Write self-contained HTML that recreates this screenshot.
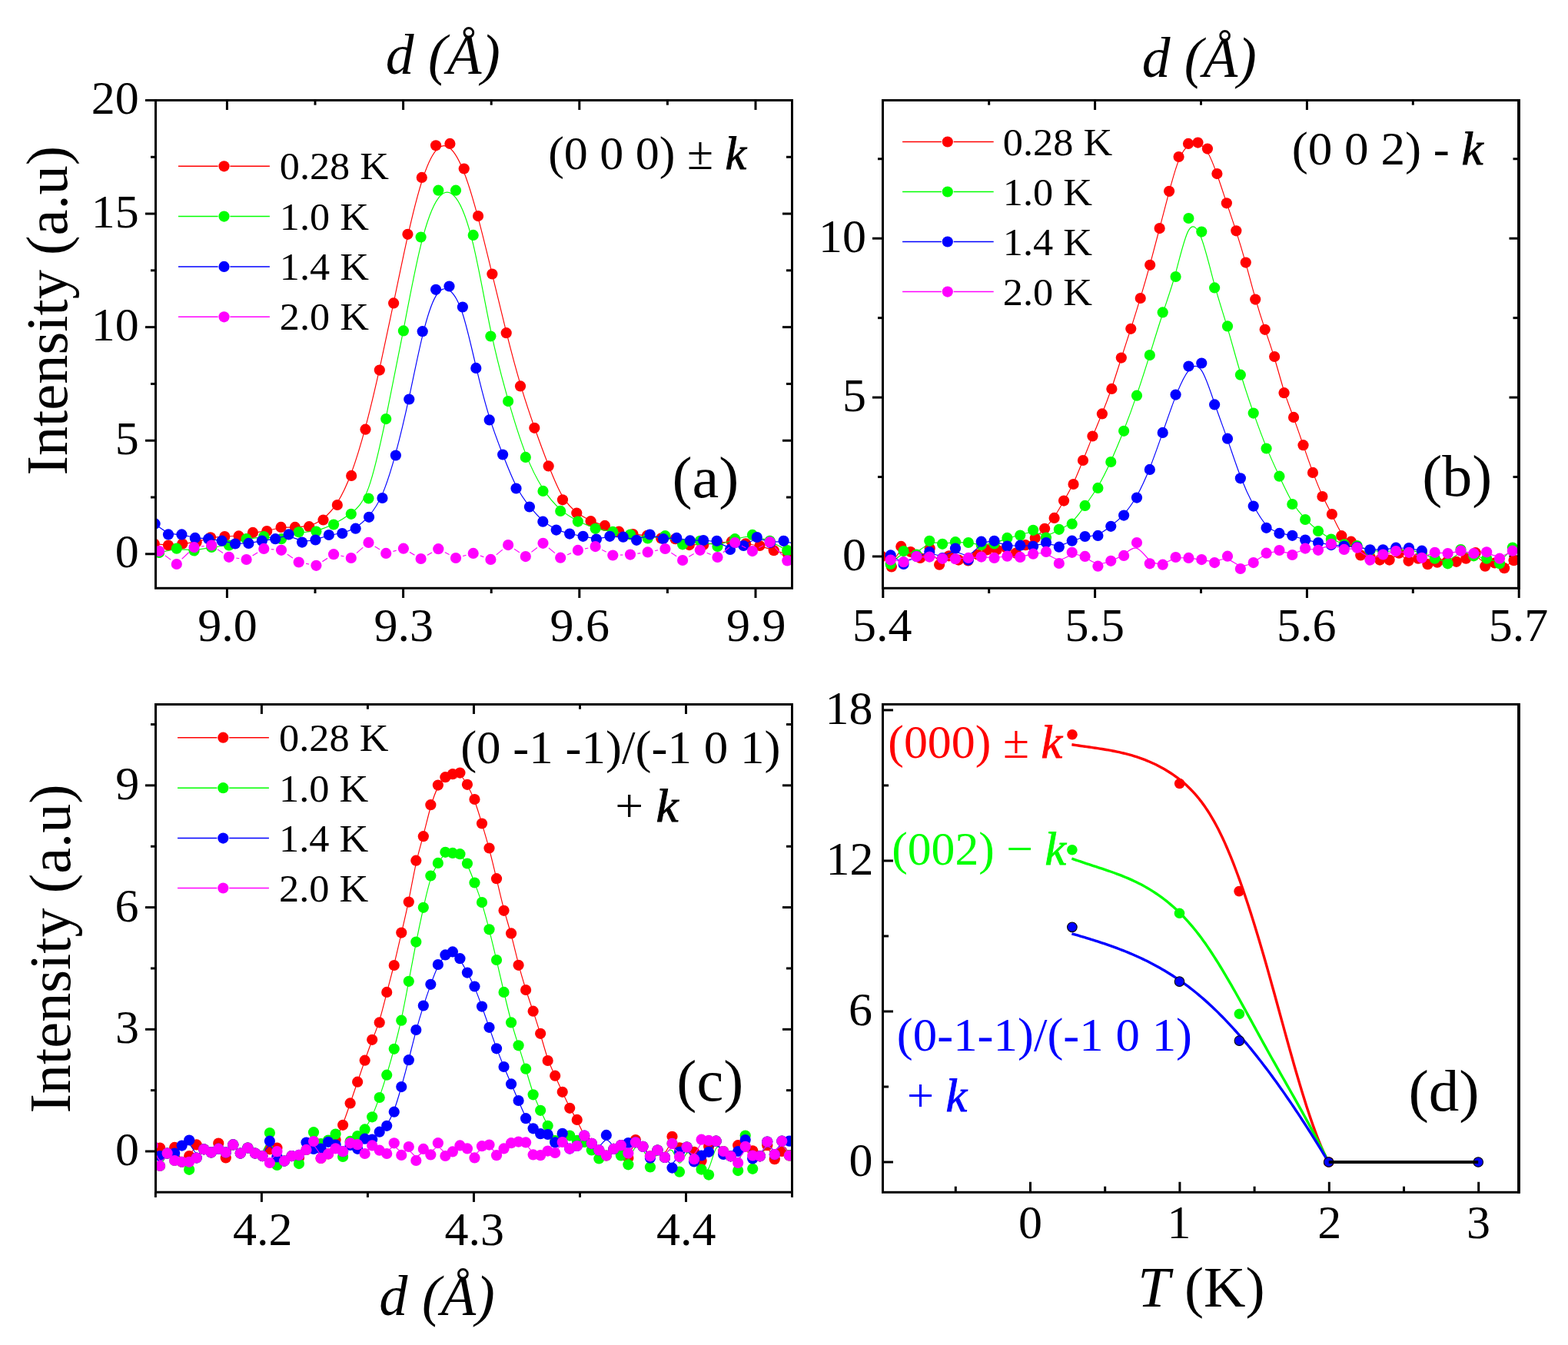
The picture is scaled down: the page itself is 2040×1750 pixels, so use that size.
<!DOCTYPE html>
<html><head><meta charset="utf-8"><title>Figure</title>
<style>html,body{margin:0;padding:0;background:#fff;width:2040px;height:1750px;overflow:hidden}svg{display:block}text{font-kerning:none}</style>
</head><body>
<svg width="2040" height="1750" viewBox="0 0 2040 1750">
<rect width="100%" height="100%" fill="#fff"/>
<defs>
<clipPath id="cA"><rect x="202.5" y="130.5" width="828" height="634.8"/></clipPath>
<clipPath id="cB"><rect x="1148.5" y="130.5" width="827.5" height="634.8"/></clipPath>
<clipPath id="cC"><rect x="202.5" y="916.5" width="828" height="634.7"/></clipPath>
<clipPath id="cD"><rect x="1148.5" y="916.4" width="827.5" height="634.9"/></clipPath>
</defs>
<g font-family="Liberation Serif, Times New Roman, serif" style="font-kerning:none">
<line x1="295.4" y1="765.3" x2="295.4" y2="778" stroke="#000" stroke-width="3.0"/>
<line x1="524.6" y1="765.3" x2="524.6" y2="778" stroke="#000" stroke-width="3.0"/>
<line x1="753.8" y1="765.3" x2="753.8" y2="778" stroke="#000" stroke-width="3.0"/>
<line x1="983" y1="765.3" x2="983" y2="778" stroke="#000" stroke-width="3.0"/>
<line x1="410" y1="765.3" x2="410" y2="772" stroke="#000" stroke-width="3.0"/>
<line x1="639.2" y1="765.3" x2="639.2" y2="772" stroke="#000" stroke-width="3.0"/>
<line x1="868.4" y1="765.3" x2="868.4" y2="772" stroke="#000" stroke-width="3.0"/>
<line x1="295.4" y1="130.5" x2="295.4" y2="143" stroke="#000" stroke-width="3.0"/>
<line x1="524.6" y1="130.5" x2="524.6" y2="143" stroke="#000" stroke-width="3.0"/>
<line x1="753.8" y1="130.5" x2="753.8" y2="143" stroke="#000" stroke-width="3.0"/>
<line x1="983" y1="130.5" x2="983" y2="143" stroke="#000" stroke-width="3.0"/>
<line x1="410" y1="130.5" x2="410" y2="136.7" stroke="#000" stroke-width="3.0"/>
<line x1="639.2" y1="130.5" x2="639.2" y2="136.7" stroke="#000" stroke-width="3.0"/>
<line x1="868.4" y1="130.5" x2="868.4" y2="136.7" stroke="#000" stroke-width="3.0"/>
<line x1="202.5" y1="720.8" x2="189" y2="720.8" stroke="#000" stroke-width="3.0"/>
<line x1="202.5" y1="573.22" x2="189" y2="573.22" stroke="#000" stroke-width="3.0"/>
<line x1="202.5" y1="425.65" x2="189" y2="425.65" stroke="#000" stroke-width="3.0"/>
<line x1="202.5" y1="278.07" x2="189" y2="278.07" stroke="#000" stroke-width="3.0"/>
<line x1="202.5" y1="130.5" x2="189" y2="130.5" stroke="#000" stroke-width="3.0"/>
<line x1="202.5" y1="647.01" x2="196" y2="647.01" stroke="#000" stroke-width="3.0"/>
<line x1="202.5" y1="499.44" x2="196" y2="499.44" stroke="#000" stroke-width="3.0"/>
<line x1="202.5" y1="351.86" x2="196" y2="351.86" stroke="#000" stroke-width="3.0"/>
<line x1="202.5" y1="204.29" x2="196" y2="204.29" stroke="#000" stroke-width="3.0"/>
<line x1="1030.5" y1="720.8" x2="1018" y2="720.8" stroke="#000" stroke-width="3.0"/>
<line x1="1030.5" y1="573.22" x2="1018" y2="573.22" stroke="#000" stroke-width="3.0"/>
<line x1="1030.5" y1="425.65" x2="1018" y2="425.65" stroke="#000" stroke-width="3.0"/>
<line x1="1030.5" y1="278.07" x2="1018" y2="278.07" stroke="#000" stroke-width="3.0"/>
<line x1="1030.5" y1="130.5" x2="1018" y2="130.5" stroke="#000" stroke-width="3.0"/>
<line x1="1030.5" y1="647.01" x2="1023" y2="647.01" stroke="#000" stroke-width="3.0"/>
<line x1="1030.5" y1="499.44" x2="1023" y2="499.44" stroke="#000" stroke-width="3.0"/>
<line x1="1030.5" y1="351.86" x2="1023" y2="351.86" stroke="#000" stroke-width="3.0"/>
<line x1="1030.5" y1="204.29" x2="1023" y2="204.29" stroke="#000" stroke-width="3.0"/>
<line x1="1148.8" y1="765.3" x2="1148.8" y2="778" stroke="#000" stroke-width="3.0"/>
<line x1="1424.6" y1="765.3" x2="1424.6" y2="778" stroke="#000" stroke-width="3.0"/>
<line x1="1700.4" y1="765.3" x2="1700.4" y2="778" stroke="#000" stroke-width="3.0"/>
<line x1="1976.2" y1="765.3" x2="1976.2" y2="778" stroke="#000" stroke-width="3.0"/>
<line x1="1286.7" y1="765.3" x2="1286.7" y2="772" stroke="#000" stroke-width="3.0"/>
<line x1="1562.5" y1="765.3" x2="1562.5" y2="772" stroke="#000" stroke-width="3.0"/>
<line x1="1838.3" y1="765.3" x2="1838.3" y2="772" stroke="#000" stroke-width="3.0"/>
<line x1="1424.6" y1="130.5" x2="1424.6" y2="143" stroke="#000" stroke-width="3.0"/>
<line x1="1700.4" y1="130.5" x2="1700.4" y2="143" stroke="#000" stroke-width="3.0"/>
<line x1="1286.7" y1="130.5" x2="1286.7" y2="136.7" stroke="#000" stroke-width="3.0"/>
<line x1="1562.5" y1="130.5" x2="1562.5" y2="136.7" stroke="#000" stroke-width="3.0"/>
<line x1="1838.3" y1="130.5" x2="1838.3" y2="136.7" stroke="#000" stroke-width="3.0"/>
<line x1="1148.5" y1="724" x2="1135" y2="724" stroke="#000" stroke-width="3.0"/>
<line x1="1148.5" y1="517.1" x2="1135" y2="517.1" stroke="#000" stroke-width="3.0"/>
<line x1="1148.5" y1="310.2" x2="1135" y2="310.2" stroke="#000" stroke-width="3.0"/>
<line x1="1148.5" y1="620.55" x2="1142" y2="620.55" stroke="#000" stroke-width="3.0"/>
<line x1="1148.5" y1="413.65" x2="1142" y2="413.65" stroke="#000" stroke-width="3.0"/>
<line x1="1148.5" y1="206.75" x2="1142" y2="206.75" stroke="#000" stroke-width="3.0"/>
<line x1="1976" y1="724" x2="1963.5" y2="724" stroke="#000" stroke-width="3.0"/>
<line x1="1976" y1="517.1" x2="1963.5" y2="517.1" stroke="#000" stroke-width="3.0"/>
<line x1="1976" y1="310.2" x2="1963.5" y2="310.2" stroke="#000" stroke-width="3.0"/>
<line x1="1976" y1="620.55" x2="1968.5" y2="620.55" stroke="#000" stroke-width="3.0"/>
<line x1="1976" y1="413.65" x2="1968.5" y2="413.65" stroke="#000" stroke-width="3.0"/>
<line x1="1976" y1="206.75" x2="1968.5" y2="206.75" stroke="#000" stroke-width="3.0"/>
<line x1="340.4" y1="1551.2" x2="340.4" y2="1563.9" stroke="#000" stroke-width="3.0"/>
<line x1="616.45" y1="1551.2" x2="616.45" y2="1563.9" stroke="#000" stroke-width="3.0"/>
<line x1="892.5" y1="1551.2" x2="892.5" y2="1563.9" stroke="#000" stroke-width="3.0"/>
<line x1="202.38" y1="1551.2" x2="202.38" y2="1557.9" stroke="#000" stroke-width="3.0"/>
<line x1="478.42" y1="1551.2" x2="478.42" y2="1557.9" stroke="#000" stroke-width="3.0"/>
<line x1="754.47" y1="1551.2" x2="754.47" y2="1557.9" stroke="#000" stroke-width="3.0"/>
<line x1="1030.53" y1="1551.2" x2="1030.53" y2="1557.9" stroke="#000" stroke-width="3.0"/>
<line x1="340.4" y1="916.5" x2="340.4" y2="929" stroke="#000" stroke-width="3.0"/>
<line x1="616.45" y1="916.5" x2="616.45" y2="929" stroke="#000" stroke-width="3.0"/>
<line x1="892.5" y1="916.5" x2="892.5" y2="929" stroke="#000" stroke-width="3.0"/>
<line x1="478.42" y1="916.5" x2="478.42" y2="922.7" stroke="#000" stroke-width="3.0"/>
<line x1="754.47" y1="916.5" x2="754.47" y2="922.7" stroke="#000" stroke-width="3.0"/>
<line x1="202.5" y1="1498" x2="189" y2="1498" stroke="#000" stroke-width="3.0"/>
<line x1="202.5" y1="1339.3" x2="189" y2="1339.3" stroke="#000" stroke-width="3.0"/>
<line x1="202.5" y1="1180.6" x2="189" y2="1180.6" stroke="#000" stroke-width="3.0"/>
<line x1="202.5" y1="1021.9" x2="189" y2="1021.9" stroke="#000" stroke-width="3.0"/>
<line x1="202.5" y1="1418.65" x2="196" y2="1418.65" stroke="#000" stroke-width="3.0"/>
<line x1="202.5" y1="1259.95" x2="196" y2="1259.95" stroke="#000" stroke-width="3.0"/>
<line x1="202.5" y1="1101.25" x2="196" y2="1101.25" stroke="#000" stroke-width="3.0"/>
<line x1="202.5" y1="942.55" x2="196" y2="942.55" stroke="#000" stroke-width="3.0"/>
<line x1="1030.5" y1="1498" x2="1018" y2="1498" stroke="#000" stroke-width="3.0"/>
<line x1="1030.5" y1="1339.3" x2="1018" y2="1339.3" stroke="#000" stroke-width="3.0"/>
<line x1="1030.5" y1="1180.6" x2="1018" y2="1180.6" stroke="#000" stroke-width="3.0"/>
<line x1="1030.5" y1="1021.9" x2="1018" y2="1021.9" stroke="#000" stroke-width="3.0"/>
<line x1="1030.5" y1="1418.65" x2="1023" y2="1418.65" stroke="#000" stroke-width="3.0"/>
<line x1="1030.5" y1="1259.95" x2="1023" y2="1259.95" stroke="#000" stroke-width="3.0"/>
<line x1="1030.5" y1="1101.25" x2="1023" y2="1101.25" stroke="#000" stroke-width="3.0"/>
<line x1="1030.5" y1="942.55" x2="1023" y2="942.55" stroke="#000" stroke-width="3.0"/>
<line x1="1340.5" y1="1551.3" x2="1340.5" y2="1537.8" stroke="#000" stroke-width="3.0"/>
<line x1="1534.9" y1="1551.3" x2="1534.9" y2="1537.8" stroke="#000" stroke-width="3.0"/>
<line x1="1729.3" y1="1551.3" x2="1729.3" y2="1537.8" stroke="#000" stroke-width="3.0"/>
<line x1="1923.7" y1="1551.3" x2="1923.7" y2="1537.8" stroke="#000" stroke-width="3.0"/>
<line x1="1243.3" y1="1551.3" x2="1243.3" y2="1543.7" stroke="#000" stroke-width="3.0"/>
<line x1="1437.7" y1="1551.3" x2="1437.7" y2="1543.7" stroke="#000" stroke-width="3.0"/>
<line x1="1632.1" y1="1551.3" x2="1632.1" y2="1543.7" stroke="#000" stroke-width="3.0"/>
<line x1="1826.5" y1="1551.3" x2="1826.5" y2="1543.7" stroke="#000" stroke-width="3.0"/>
<line x1="1148.5" y1="1512" x2="1162" y2="1512" stroke="#000" stroke-width="3.0"/>
<line x1="1148.5" y1="1315.98" x2="1162" y2="1315.98" stroke="#000" stroke-width="3.0"/>
<line x1="1148.5" y1="1119.96" x2="1162" y2="1119.96" stroke="#000" stroke-width="3.0"/>
<line x1="1148.5" y1="923.94" x2="1162" y2="923.94" stroke="#000" stroke-width="3.0"/>
<line x1="1148.5" y1="1413.99" x2="1156.1" y2="1413.99" stroke="#000" stroke-width="3.0"/>
<line x1="1148.5" y1="1217.97" x2="1156.1" y2="1217.97" stroke="#000" stroke-width="3.0"/>
<line x1="1148.5" y1="1021.95" x2="1156.1" y2="1021.95" stroke="#000" stroke-width="3.0"/>
<g clip-path="url(#cA)"><path d="M200.68,707.5C200.68,707.5 200.68,707.5 203.73,707.83C206.79,708.17 212.89,708.83 219,708.83C225.11,708.83 231.21,708.17 237.32,707.52C243.43,706.87 249.53,706.23 255.64,704.87C261.75,703.5 267.85,701.4 273.96,700.13C280.07,698.87 286.17,698.43 292.28,698.12C298.39,697.8 304.49,697.6 310.6,696.75C316.71,695.9 322.81,694.4 328.92,693.33C335.03,692.27 341.13,691.63 347.24,690.47C353.35,689.3 359.45,687.6 365.56,686.75C371.67,685.9 377.77,685.9 383.88,685.78C389.99,685.67 396.09,685.43 402.2,683.87C408.31,682.3 414.41,679.4 420.52,674.7C426.63,670 432.73,663.5 438.84,653.9C444.95,644.3 451.05,631.6 457.16,615.22C463.27,598.83 469.37,578.77 475.48,555.88C481.59,533 487.69,507.3 493.8,479.92C499.91,452.53 506.01,423.47 512.12,394C518.23,364.53 524.33,334.67 530.44,307.42C536.55,280.17 542.65,255.53 548.76,236.28C554.87,217.03 560.97,203.17 567.08,195.83C573.19,188.5 579.29,187.7 585.4,192.73C591.51,197.77 597.61,208.63 603.72,224.33C609.83,240.03 615.93,260.57 622.04,283.4C628.15,306.23 634.25,331.37 640.36,356.72C646.47,382.07 652.57,407.63 658.68,431.95C664.79,456.27 670.89,479.33 677,499.93C683.11,520.53 689.21,538.67 695.32,556C701.43,573.33 707.53,589.87 713.64,605.45C719.75,621.03 725.85,635.67 731.96,645.85C738.07,656.03 744.17,661.77 750.28,666.42C756.39,671.07 762.49,674.63 768.6,677.37C774.71,680.1 780.81,682 786.92,684.25C793.03,686.5 799.13,689.1 805.24,690.95C811.35,692.8 817.45,693.9 823.56,694.77C829.67,695.63 835.77,696.27 841.88,697.17C847.99,698.07 854.09,699.23 860.2,699.95C866.31,700.67 872.41,700.93 878.52,702.38C884.63,703.83 890.73,706.47 896.84,707.78C902.95,709.1 909.05,709.1 915.16,708.58C921.27,708.07 927.37,707.03 933.48,706.3C939.59,705.57 945.69,705.13 951.8,705.37C957.91,705.6 964.01,706.5 970.12,707.38C976.23,708.27 982.33,709.13 988.44,710.6C994.55,712.07 1000.65,714.13 1006.76,715.97C1012.87,717.8 1018.97,719.4 1022.03,720.2C1025.08,721 1025.08,721 1025.08,721" fill="none" stroke="#ff0000" stroke-width="1.15"/>
<g fill="#ff0000"><circle cx="200.68" cy="707.5" r="7.1"/><circle cx="219" cy="709.5" r="7.1"/><circle cx="237.32" cy="707.5" r="7.1"/><circle cx="255.64" cy="705.6" r="7.1"/><circle cx="273.96" cy="699.3" r="7.1"/><circle cx="292.28" cy="698" r="7.1"/><circle cx="310.6" cy="697.4" r="7.1"/><circle cx="328.92" cy="692.9" r="7.1"/><circle cx="347.24" cy="691" r="7.1"/><circle cx="365.56" cy="685.9" r="7.1"/><circle cx="383.88" cy="685.9" r="7.1"/><circle cx="402.2" cy="685.2" r="7.1"/><circle cx="420.52" cy="676.5" r="7.1"/><circle cx="438.84" cy="657" r="7.1"/><circle cx="457.16" cy="618.9" r="7.1"/><circle cx="475.48" cy="558.7" r="7.1"/><circle cx="493.8" cy="481.6" r="7.1"/><circle cx="512.12" cy="394.4" r="7.1"/><circle cx="530.44" cy="304.8" r="7.1"/><circle cx="548.76" cy="230.9" r="7.1"/><circle cx="567.08" cy="189.3" r="7.1"/><circle cx="585.4" cy="186.9" r="7.1"/><circle cx="603.72" cy="219.5" r="7.1"/><circle cx="622.04" cy="281.1" r="7.1"/><circle cx="640.36" cy="356.5" r="7.1"/><circle cx="658.68" cy="433.2" r="7.1"/><circle cx="677" cy="502.4" r="7.1"/><circle cx="695.32" cy="556.8" r="7.1"/><circle cx="713.64" cy="606.4" r="7.1"/><circle cx="731.96" cy="650.3" r="7.1"/><circle cx="750.28" cy="667.5" r="7.1"/><circle cx="768.6" cy="678.2" r="7.1"/><circle cx="786.92" cy="683.9" r="7.1"/><circle cx="805.24" cy="691.7" r="7.1"/><circle cx="823.56" cy="695" r="7.1"/><circle cx="841.88" cy="696.9" r="7.1"/><circle cx="860.2" cy="700.4" r="7.1"/><circle cx="878.52" cy="701.2" r="7.1"/><circle cx="896.84" cy="709.1" r="7.1"/><circle cx="915.16" cy="709.1" r="7.1"/><circle cx="933.48" cy="706" r="7.1"/><circle cx="951.8" cy="704.7" r="7.1"/><circle cx="970.12" cy="707.4" r="7.1"/><circle cx="988.44" cy="710" r="7.1"/><circle cx="1006.76" cy="716.2" r="7.1"/><circle cx="1025.08" cy="721" r="7.1"/></g></g>
<g clip-path="url(#cA)"><path d="M207.1,719C207.1,719 207.1,719 210.88,718.12C214.67,717.23 222.23,715.47 229.8,715.05C237.37,714.63 244.93,715.57 252.5,715.28C260.07,715 267.63,713.5 275.2,712.33C282.77,711.17 290.33,710.33 297.9,708.53C305.47,706.73 313.03,703.97 320.6,702.05C328.17,700.13 335.73,699.07 343.3,699.07C350.87,699.07 358.43,700.13 366,699.18C373.57,698.23 381.13,695.27 388.7,693.67C396.27,692.07 403.83,691.83 411.4,690.2C418.97,688.57 426.53,685.53 434.1,681.73C441.67,677.93 449.23,673.37 456.8,667.7C464.37,662.03 471.93,655.27 479.5,634.65C487.07,614.03 494.63,579.57 502.2,543.22C509.77,506.87 517.33,468.63 524.9,429.2C532.47,389.77 540.03,349.13 547.6,318.68C555.17,288.23 562.73,267.97 570.3,257.83C577.87,247.7 585.43,247.7 593,257.4C600.57,267.1 608.13,286.5 615.7,318.13C623.27,349.77 630.83,393.63 638.4,429.67C645.97,465.7 653.53,493.9 661.1,520.13C668.67,546.37 676.23,570.63 683.8,590.1C691.37,609.57 698.93,624.23 706.5,635.9C714.07,647.57 721.63,656.23 729.2,662.85C736.77,669.47 744.33,674.03 751.9,677.85C759.47,681.67 767.03,684.73 774.6,686.95C782.17,689.17 789.73,690.53 797.3,691.82C804.87,693.1 812.43,694.3 820,695.73C827.57,697.17 835.13,698.83 842.7,699.12C850.27,699.4 857.83,698.3 865.4,699.6C872.97,700.9 880.53,704.6 888.1,705.7C895.67,706.8 903.23,705.3 910.8,705.73C918.37,706.17 925.93,708.53 933.5,708.1C941.07,707.67 948.63,704.43 956.2,701.93C963.77,699.43 971.33,697.67 978.9,698.1C986.47,698.53 994.03,701.17 1001.6,704.55C1009.17,707.93 1016.73,712.07 1020.52,714.13C1024.3,716.2 1024.3,716.2 1024.3,716.2" fill="none" stroke="#00ff00" stroke-width="1.15"/>
<g fill="#00ff00"><circle cx="207.1" cy="719" r="7.1"/><circle cx="229.8" cy="713.7" r="7.1"/><circle cx="252.5" cy="716.5" r="7.1"/><circle cx="275.2" cy="712" r="7.1"/><circle cx="297.9" cy="709.5" r="7.1"/><circle cx="320.6" cy="701.2" r="7.1"/><circle cx="343.3" cy="698" r="7.1"/><circle cx="366" cy="701.2" r="7.1"/><circle cx="388.7" cy="692.3" r="7.1"/><circle cx="411.4" cy="691.6" r="7.1"/><circle cx="434.1" cy="682.5" r="7.1"/><circle cx="456.8" cy="668.8" r="7.1"/><circle cx="479.5" cy="648.5" r="7.1"/><circle cx="502.2" cy="545.1" r="7.1"/><circle cx="524.9" cy="430.4" r="7.1"/><circle cx="547.6" cy="308.5" r="7.1"/><circle cx="570.3" cy="247.7" r="7.1"/><circle cx="593" cy="247.7" r="7.1"/><circle cx="615.7" cy="305.9" r="7.1"/><circle cx="638.4" cy="437.5" r="7.1"/><circle cx="661.1" cy="522.1" r="7.1"/><circle cx="683.8" cy="594.9" r="7.1"/><circle cx="706.5" cy="638.9" r="7.1"/><circle cx="729.2" cy="664.9" r="7.1"/><circle cx="751.9" cy="678.6" r="7.1"/><circle cx="774.6" cy="687.8" r="7.1"/><circle cx="797.3" cy="691.9" r="7.1"/><circle cx="820" cy="695.5" r="7.1"/><circle cx="842.7" cy="700.5" r="7.1"/><circle cx="865.4" cy="697.2" r="7.1"/><circle cx="888.1" cy="708.3" r="7.1"/><circle cx="910.8" cy="703.8" r="7.1"/><circle cx="933.5" cy="710.9" r="7.1"/><circle cx="956.2" cy="701.2" r="7.1"/><circle cx="978.9" cy="695.9" r="7.1"/><circle cx="1001.6" cy="703.8" r="7.1"/><circle cx="1024.3" cy="716.2" r="7.1"/></g></g>
<g clip-path="url(#cA)"><path d="M201.6,681.4C201.6,681.4 201.6,681.4 204.5,683.73C207.4,686.07 213.2,690.73 219,693.07C224.81,695.4 230.61,695.4 236.41,696.15C242.21,696.9 248.01,698.4 253.81,699.37C259.61,700.33 265.41,700.77 271.22,701.4C277.02,702.03 282.82,702.87 288.62,703.92C294.42,704.97 300.22,706.23 306.02,706.77C311.83,707.3 317.63,707.1 323.43,706.47C329.23,705.83 335.03,704.77 340.83,703.82C346.63,702.87 352.43,702.03 358.24,700.65C364.04,699.27 369.84,697.33 375.64,698.07C381.44,698.8 387.24,702.2 393.04,703.38C398.85,704.57 404.65,703.53 410.45,701.93C416.25,700.33 422.05,698.17 427.85,696.75C433.65,695.33 439.45,694.67 445.26,693.28C451.06,691.9 456.86,689.8 462.66,686.27C468.46,682.73 474.26,677.77 480.06,671.15C485.87,664.53 491.67,656.27 497.47,642.88C503.27,629.5 509.07,611 514.87,589.58C520.67,568.17 526.47,543.83 532.28,516.95C538.08,490.07 543.88,460.63 549.68,436.85C555.48,413.07 561.28,394.93 567.08,385.15C572.89,375.37 578.69,373.93 584.49,377.72C590.29,381.5 596.09,390.5 601.89,408.23C607.69,425.97 613.49,452.43 619.3,476.92C625.1,501.4 630.9,523.9 636.7,542.67C642.5,561.43 648.3,576.47 654.1,591.32C659.91,606.17 665.71,620.83 671.51,632.17C677.31,643.5 683.11,651.5 688.91,658.7C694.71,665.9 700.51,672.3 706.32,677.32C712.12,682.33 717.92,685.97 723.72,688.62C729.52,691.27 735.32,692.93 741.12,694.3C746.93,695.67 752.73,696.73 758.53,697.88C764.33,699.03 770.13,700.27 775.93,700.27C781.73,700.27 787.53,699.03 793.34,698.57C799.14,698.1 804.94,698.4 810.74,699.23C816.54,700.07 822.34,701.43 828.14,700.9C833.95,700.37 839.75,697.93 845.55,697.63C851.35,697.33 857.15,699.17 862.95,699.9C868.75,700.63 874.55,700.27 880.36,700.67C886.16,701.07 891.96,702.23 897.76,702.75C903.56,703.27 909.36,703.13 915.16,703.2C920.97,703.27 926.77,703.53 932.57,705.52C938.37,707.5 944.17,711.2 949.97,712.23C955.77,713.27 961.57,711.63 967.38,708.98C973.18,706.33 978.98,702.67 984.78,702C990.58,701.33 996.38,703.67 1002.18,704.47C1007.99,705.27 1013.79,704.53 1019.59,704.87C1025.39,705.2 1031.19,706.6 1034.09,707.3C1036.99,708 1036.99,708 1036.99,708" fill="none" stroke="#0000ff" stroke-width="1.15"/>
<g fill="#0000ff"><circle cx="201.6" cy="681.4" r="7.1"/><circle cx="219" cy="695.4" r="7.1"/><circle cx="236.41" cy="695.4" r="7.1"/><circle cx="253.81" cy="699.9" r="7.1"/><circle cx="271.22" cy="701.2" r="7.1"/><circle cx="288.62" cy="703.7" r="7.1"/><circle cx="306.02" cy="707.5" r="7.1"/><circle cx="323.43" cy="706.9" r="7.1"/><circle cx="340.83" cy="703.7" r="7.1"/><circle cx="358.24" cy="701.2" r="7.1"/><circle cx="375.64" cy="695.4" r="7.1"/><circle cx="393.04" cy="705.6" r="7.1"/><circle cx="410.45" cy="702.5" r="7.1"/><circle cx="427.85" cy="696" r="7.1"/><circle cx="445.26" cy="694" r="7.1"/><circle cx="462.66" cy="687.7" r="7.1"/><circle cx="480.06" cy="672.8" r="7.1"/><circle cx="497.47" cy="648" r="7.1"/><circle cx="514.87" cy="592.5" r="7.1"/><circle cx="532.28" cy="519.5" r="7.1"/><circle cx="549.68" cy="431.2" r="7.1"/><circle cx="567.08" cy="376.8" r="7.1"/><circle cx="584.49" cy="372.5" r="7.1"/><circle cx="601.89" cy="399.5" r="7.1"/><circle cx="619.3" cy="478.9" r="7.1"/><circle cx="636.7" cy="546.4" r="7.1"/><circle cx="654.1" cy="591.5" r="7.1"/><circle cx="671.51" cy="635.5" r="7.1"/><circle cx="688.91" cy="659.5" r="7.1"/><circle cx="706.32" cy="678.7" r="7.1"/><circle cx="723.72" cy="689.6" r="7.1"/><circle cx="741.12" cy="694.6" r="7.1"/><circle cx="758.53" cy="697.8" r="7.1"/><circle cx="775.93" cy="701.5" r="7.1"/><circle cx="793.34" cy="697.8" r="7.1"/><circle cx="810.74" cy="698.7" r="7.1"/><circle cx="828.14" cy="702.8" r="7.1"/><circle cx="845.55" cy="695.5" r="7.1"/><circle cx="862.95" cy="701" r="7.1"/><circle cx="880.36" cy="699.9" r="7.1"/><circle cx="897.76" cy="703.4" r="7.1"/><circle cx="915.16" cy="703" r="7.1"/><circle cx="932.57" cy="703.8" r="7.1"/><circle cx="949.97" cy="714.9" r="7.1"/><circle cx="967.38" cy="710" r="7.1"/><circle cx="984.78" cy="699" r="7.1"/><circle cx="1002.18" cy="706" r="7.1"/><circle cx="1019.59" cy="703.8" r="7.1"/><circle cx="1036.99" cy="708" r="7.1"/></g></g>
<mask id="m1" maskUnits="userSpaceOnUse" x="0" y="0" width="2040" height="1750"><rect width="2040" height="1750" fill="#fff"/><g fill="#000"><circle cx="207.1" cy="717.1" r="9.7"/><circle cx="229.8" cy="734" r="9.7"/><circle cx="252.5" cy="712" r="9.7"/><circle cx="275.2" cy="709.5" r="9.7"/><circle cx="297.9" cy="724.8" r="9.7"/><circle cx="320.6" cy="728" r="9.7"/><circle cx="343.3" cy="713.9" r="9.7"/><circle cx="366" cy="715.8" r="9.7"/><circle cx="388.7" cy="731.5" r="9.7"/><circle cx="411.4" cy="735.8" r="9.7"/><circle cx="434.1" cy="721.2" r="9.7"/><circle cx="456.8" cy="726" r="9.7"/><circle cx="479.5" cy="705.9" r="9.7"/><circle cx="502.2" cy="719.9" r="9.7"/><circle cx="524.9" cy="713.7" r="9.7"/><circle cx="547.6" cy="727" r="9.7"/><circle cx="570.3" cy="714.2" r="9.7"/><circle cx="593" cy="726" r="9.7"/><circle cx="615.7" cy="719.9" r="9.7"/><circle cx="638.4" cy="727.9" r="9.7"/><circle cx="661.1" cy="709.1" r="9.7"/><circle cx="683.8" cy="724.1" r="9.7"/><circle cx="706.5" cy="706.8" r="9.7"/><circle cx="729.2" cy="725.7" r="9.7"/><circle cx="751.9" cy="715.9" r="9.7"/><circle cx="774.6" cy="711.1" r="9.7"/><circle cx="797.3" cy="722.5" r="9.7"/><circle cx="820" cy="721.6" r="9.7"/><circle cx="842.7" cy="718.4" r="9.7"/><circle cx="865.4" cy="714" r="9.7"/><circle cx="888.1" cy="729" r="9.7"/><circle cx="910.8" cy="715.8" r="9.7"/><circle cx="933.5" cy="725" r="9.7"/><circle cx="956.2" cy="706" r="9.7"/><circle cx="978.9" cy="717.1" r="9.7"/><circle cx="1001.6" cy="705.2" r="9.7"/><circle cx="1024.3" cy="729.4" r="9.7"/></g></mask>
<g clip-path="url(#cA)"><path d="M207.1,717.1 L229.8,734 L252.5,712 L275.2,709.5 L297.9,724.8 L320.6,728 L343.3,713.9 L366,715.8 L388.7,731.5 L411.4,735.8 L434.1,721.2 L456.8,726 L479.5,705.9 L502.2,719.9 L524.9,713.7 L547.6,727 L570.3,714.2 L593,726 L615.7,719.9 L638.4,727.9 L661.1,709.1 L683.8,724.1 L706.5,706.8 L729.2,725.7 L751.9,715.9 L774.6,711.1 L797.3,722.5 L820,721.6 L842.7,718.4 L865.4,714 L888.1,729 L910.8,715.8 L933.5,725 L956.2,706 L978.9,717.1 L1001.6,705.2 L1024.3,729.4" fill="none" stroke="#ff00ff" stroke-width="1.15" mask="url(#m1)"/>
<g fill="#ff00ff"><circle cx="207.1" cy="717.1" r="7.1"/><circle cx="229.8" cy="734" r="7.1"/><circle cx="252.5" cy="712" r="7.1"/><circle cx="275.2" cy="709.5" r="7.1"/><circle cx="297.9" cy="724.8" r="7.1"/><circle cx="320.6" cy="728" r="7.1"/><circle cx="343.3" cy="713.9" r="7.1"/><circle cx="366" cy="715.8" r="7.1"/><circle cx="388.7" cy="731.5" r="7.1"/><circle cx="411.4" cy="735.8" r="7.1"/><circle cx="434.1" cy="721.2" r="7.1"/><circle cx="456.8" cy="726" r="7.1"/><circle cx="479.5" cy="705.9" r="7.1"/><circle cx="502.2" cy="719.9" r="7.1"/><circle cx="524.9" cy="713.7" r="7.1"/><circle cx="547.6" cy="727" r="7.1"/><circle cx="570.3" cy="714.2" r="7.1"/><circle cx="593" cy="726" r="7.1"/><circle cx="615.7" cy="719.9" r="7.1"/><circle cx="638.4" cy="727.9" r="7.1"/><circle cx="661.1" cy="709.1" r="7.1"/><circle cx="683.8" cy="724.1" r="7.1"/><circle cx="706.5" cy="706.8" r="7.1"/><circle cx="729.2" cy="725.7" r="7.1"/><circle cx="751.9" cy="715.9" r="7.1"/><circle cx="774.6" cy="711.1" r="7.1"/><circle cx="797.3" cy="722.5" r="7.1"/><circle cx="820" cy="721.6" r="7.1"/><circle cx="842.7" cy="718.4" r="7.1"/><circle cx="865.4" cy="714" r="7.1"/><circle cx="888.1" cy="729" r="7.1"/><circle cx="910.8" cy="715.8" r="7.1"/><circle cx="933.5" cy="725" r="7.1"/><circle cx="956.2" cy="706" r="7.1"/><circle cx="978.9" cy="717.1" r="7.1"/><circle cx="1001.6" cy="705.2" r="7.1"/><circle cx="1024.3" cy="729.4" r="7.1"/></g></g>
<g clip-path="url(#cB)"><path d="M1147.4,724C1147.4,724 1147.4,724 1149.48,726.23C1151.55,728.47 1155.7,732.93 1159.86,730.75C1164.01,728.57 1168.16,719.73 1172.31,716.5C1176.47,713.27 1180.62,715.63 1184.77,718.15C1188.92,720.67 1193.08,723.33 1197.23,722.6C1201.38,721.87 1205.53,717.73 1209.69,719.18C1213.84,720.63 1217.99,727.67 1222.14,729.28C1226.29,730.9 1230.45,727.1 1234.6,726.08C1238.75,725.07 1242.9,726.83 1247.06,727.85C1251.21,728.87 1255.36,729.13 1259.51,727.95C1263.67,726.77 1267.82,724.13 1271.97,721.78C1276.12,719.43 1280.27,717.37 1284.43,716.33C1288.58,715.3 1292.73,715.3 1296.88,714.87C1301.04,714.43 1305.19,713.57 1309.34,714.3C1313.49,715.03 1317.65,717.37 1321.8,716.78C1325.95,716.2 1330.1,712.7 1334.26,709.43C1338.41,706.17 1342.56,703.13 1346.71,699.57C1350.86,696 1355.02,691.9 1359.17,687.53C1363.32,683.17 1367.47,678.53 1371.63,672.5C1375.78,666.47 1379.93,659.03 1384.08,651.72C1388.24,644.4 1392.39,637.2 1396.54,628.43C1400.69,619.67 1404.84,609.33 1409,598.92C1413.15,588.5 1417.3,578 1421.45,567.9C1425.61,557.8 1429.76,548.1 1433.91,537.83C1438.06,527.57 1442.22,516.73 1446.37,504.6C1450.52,492.47 1454.67,479.03 1458.83,466.02C1462.98,453 1467.13,440.4 1471.28,427.47C1475.43,414.53 1479.59,401.27 1483.74,387.43C1487.89,373.6 1492.04,359.2 1496.2,344.05C1500.35,328.9 1504.5,313 1508.65,297C1512.81,281 1516.96,264.9 1521.11,249.38C1525.26,233.87 1529.41,218.93 1533.57,208.62C1537.72,198.3 1541.87,192.6 1546.02,189.53C1550.18,186.47 1554.33,186.03 1558.48,187.15C1562.63,188.27 1566.79,190.93 1570.94,197.68C1575.09,204.43 1579.24,215.27 1583.4,227.05C1587.55,238.83 1591.7,251.57 1595.85,263.93C1600,276.3 1604.16,288.3 1608.31,301.18C1612.46,314.07 1616.61,327.83 1620.77,342.72C1624.92,357.6 1629.07,373.6 1633.22,388.13C1637.38,402.67 1641.53,415.73 1645.68,428.13C1649.83,440.53 1653.98,452.27 1658.14,466C1662.29,479.73 1666.44,495.47 1670.59,508.62C1674.75,521.77 1678.9,532.33 1683.05,543.67C1687.2,555 1691.36,567.1 1695.51,579.1C1699.66,591.1 1703.81,603 1707.97,614.13C1712.12,625.27 1716.27,635.63 1720.42,644.65C1724.57,653.67 1728.73,661.33 1732.88,669.87C1737.03,678.4 1741.18,687.8 1745.34,693.75C1749.49,699.7 1753.64,702.2 1757.79,706.4C1761.95,710.6 1766.1,716.5 1770.25,719.88C1774.4,723.27 1778.55,724.13 1782.71,725.17C1786.86,726.2 1791.01,727.4 1795.16,728C1799.32,728.6 1803.47,728.6 1807.62,727.12C1811.77,725.63 1815.93,722.67 1820.08,722.87C1824.23,723.07 1828.38,726.43 1832.54,727.6C1836.69,728.77 1840.84,727.73 1844.99,728.47C1849.14,729.2 1853.3,731.7 1857.45,732.53C1861.6,733.37 1865.75,732.53 1869.91,732C1874.06,731.47 1878.21,731.23 1882.36,731.08C1886.52,730.93 1890.67,730.87 1894.82,730.15C1898.97,729.43 1903.12,728.07 1907.28,726.13C1911.43,724.2 1915.58,721.7 1919.73,723.37C1923.89,725.03 1928.04,730.87 1932.19,733.08C1936.34,735.3 1940.5,733.9 1944.65,734.32C1948.8,734.73 1952.95,736.97 1957.1,736.42C1961.26,735.87 1965.41,732.53 1967.49,730.87C1969.56,729.2 1969.56,729.2 1969.56,729.2" fill="none" stroke="#ff0000" stroke-width="1.15"/>
<g fill="#ff0000"><circle cx="1147.4" cy="724" r="7.1"/><circle cx="1159.86" cy="737.4" r="7.1"/><circle cx="1172.31" cy="710.9" r="7.1"/><circle cx="1184.77" cy="718" r="7.1"/><circle cx="1197.23" cy="726" r="7.1"/><circle cx="1209.69" cy="713.6" r="7.1"/><circle cx="1222.14" cy="734.7" r="7.1"/><circle cx="1234.6" cy="723.3" r="7.1"/><circle cx="1247.06" cy="728.6" r="7.1"/><circle cx="1259.51" cy="729.4" r="7.1"/><circle cx="1271.97" cy="721.5" r="7.1"/><circle cx="1284.43" cy="715.3" r="7.1"/><circle cx="1296.88" cy="715.3" r="7.1"/><circle cx="1309.34" cy="712.7" r="7.1"/><circle cx="1321.8" cy="719.7" r="7.1"/><circle cx="1334.26" cy="709.2" r="7.1"/><circle cx="1346.71" cy="700.1" r="7.1"/><circle cx="1359.17" cy="687.8" r="7.1"/><circle cx="1371.63" cy="673.9" r="7.1"/><circle cx="1384.08" cy="651.6" r="7.1"/><circle cx="1396.54" cy="630" r="7.1"/><circle cx="1409" cy="599" r="7.1"/><circle cx="1421.45" cy="567.5" r="7.1"/><circle cx="1433.91" cy="538.4" r="7.1"/><circle cx="1446.37" cy="505.9" r="7.1"/><circle cx="1458.83" cy="465.6" r="7.1"/><circle cx="1471.28" cy="427.8" r="7.1"/><circle cx="1483.74" cy="388" r="7.1"/><circle cx="1496.2" cy="344.8" r="7.1"/><circle cx="1508.65" cy="297.1" r="7.1"/><circle cx="1521.11" cy="248.8" r="7.1"/><circle cx="1533.57" cy="204" r="7.1"/><circle cx="1546.02" cy="186.9" r="7.1"/><circle cx="1558.48" cy="185.6" r="7.1"/><circle cx="1570.94" cy="193.6" r="7.1"/><circle cx="1583.39" cy="226.1" r="7.1"/><circle cx="1595.85" cy="264.3" r="7.1"/><circle cx="1608.31" cy="300.3" r="7.1"/><circle cx="1620.77" cy="341.6" r="7.1"/><circle cx="1633.22" cy="389.6" r="7.1"/><circle cx="1645.68" cy="428.8" r="7.1"/><circle cx="1658.14" cy="464" r="7.1"/><circle cx="1670.59" cy="511.2" r="7.1"/><circle cx="1683.05" cy="542.9" r="7.1"/><circle cx="1695.51" cy="579.2" r="7.1"/><circle cx="1707.97" cy="614.9" r="7.1"/><circle cx="1720.42" cy="646" r="7.1"/><circle cx="1732.88" cy="669" r="7.1"/><circle cx="1745.34" cy="697.2" r="7.1"/><circle cx="1757.79" cy="704.7" r="7.1"/><circle cx="1770.25" cy="722.4" r="7.1"/><circle cx="1782.71" cy="725" r="7.1"/><circle cx="1795.16" cy="728.6" r="7.1"/><circle cx="1807.62" cy="728.6" r="7.1"/><circle cx="1820.08" cy="719.7" r="7.1"/><circle cx="1832.54" cy="729.8" r="7.1"/><circle cx="1844.99" cy="726.7" r="7.1"/><circle cx="1857.45" cy="734.2" r="7.1"/><circle cx="1869.91" cy="731.7" r="7.1"/><circle cx="1882.36" cy="731" r="7.1"/><circle cx="1894.82" cy="730.8" r="7.1"/><circle cx="1907.28" cy="726.7" r="7.1"/><circle cx="1919.73" cy="719.2" r="7.1"/><circle cx="1932.19" cy="736.7" r="7.1"/><circle cx="1944.65" cy="732.5" r="7.1"/><circle cx="1957.11" cy="739.2" r="7.1"/><circle cx="1969.56" cy="729.2" r="7.1"/></g></g>
<g clip-path="url(#cB)"><path d="M1158.7,733.9C1158.7,733.9 1158.7,733.9 1161.51,731.1C1164.32,728.3 1169.94,722.7 1175.56,720.63C1181.18,718.57 1186.8,720.03 1192.42,717.82C1198.04,715.6 1203.65,709.7 1209.27,707.42C1214.89,705.13 1220.51,706.47 1226.13,706.7C1231.75,706.93 1237.37,706.07 1242.99,705.77C1248.61,705.47 1254.23,705.73 1259.85,706.37C1265.47,707 1271.09,708 1276.71,708.23C1282.33,708.47 1287.94,707.93 1293.56,706.42C1299.18,704.9 1304.8,702.4 1310.42,700.6C1316.04,698.8 1321.66,697.7 1327.28,696.02C1332.9,694.33 1338.52,692.07 1344.14,692.57C1349.76,693.07 1355.38,696.33 1361,696.17C1366.62,696 1372.23,692.4 1377.85,689.42C1383.47,686.43 1389.09,684.07 1394.71,678.92C1400.33,673.77 1405.95,665.83 1411.57,658.03C1417.19,650.23 1422.81,642.57 1428.43,633.08C1434.05,623.6 1439.67,612.3 1445.29,599.95C1450.91,587.6 1456.52,574.2 1462.14,559.82C1467.76,545.43 1473.38,530.07 1479,513.62C1484.62,497.17 1490.24,479.63 1495.86,461.58C1501.48,443.53 1507.1,424.97 1512.72,407.95C1518.34,390.93 1523.96,375.47 1529.58,355.07C1535.2,334.67 1540.81,309.33 1546.43,299.6C1552.05,289.87 1557.67,295.73 1563.29,310.8C1568.91,325.87 1574.53,350.13 1580.15,370.6C1585.77,391.07 1591.39,407.73 1597.01,426.62C1602.63,445.5 1608.25,466.6 1613.87,485.47C1619.49,504.33 1625.1,520.97 1630.72,536.93C1636.34,552.9 1641.96,568.2 1647.58,581.88C1653.2,595.57 1658.82,607.63 1664.44,619.72C1670.06,631.8 1675.68,643.9 1681.3,653.28C1686.92,662.67 1692.54,669.33 1698.16,675.17C1703.78,681 1709.39,686 1715.01,690.27C1720.63,694.53 1726.25,698.07 1731.87,700.95C1737.49,703.83 1743.11,706.07 1748.73,707.47C1754.35,708.87 1759.97,709.43 1765.59,710.75C1771.21,712.07 1776.83,714.13 1782.45,715.47C1788.07,716.8 1793.68,717.4 1799.3,717.4C1804.92,717.4 1810.54,716.8 1816.16,716.2C1821.78,715.6 1827.4,715 1833.02,715.63C1838.64,716.27 1844.26,718.13 1849.88,720.18C1855.5,722.23 1861.12,724.47 1866.74,726.68C1872.36,728.9 1877.97,731.1 1883.59,729.15C1889.21,727.2 1894.83,721.1 1900.45,719.43C1906.07,717.77 1911.69,720.53 1917.31,722.48C1922.93,724.43 1928.55,725.57 1934.17,727.23C1939.79,728.9 1945.41,731.1 1951.03,728.73C1956.65,726.37 1962.26,719.43 1965.07,715.97C1967.88,712.5 1967.88,712.5 1967.88,712.5" fill="none" stroke="#00ff00" stroke-width="1.15"/>
<g fill="#00ff00"><circle cx="1158.7" cy="733.9" r="7.1"/><circle cx="1175.56" cy="717.1" r="7.1"/><circle cx="1192.42" cy="721.5" r="7.1"/><circle cx="1209.27" cy="703.8" r="7.1"/><circle cx="1226.13" cy="707.8" r="7.1"/><circle cx="1242.99" cy="705.2" r="7.1"/><circle cx="1259.85" cy="706" r="7.1"/><circle cx="1276.71" cy="709" r="7.1"/><circle cx="1293.56" cy="707.4" r="7.1"/><circle cx="1310.42" cy="699.9" r="7.1"/><circle cx="1327.28" cy="696.6" r="7.1"/><circle cx="1344.14" cy="689.8" r="7.1"/><circle cx="1361" cy="699.6" r="7.1"/><circle cx="1377.85" cy="688.8" r="7.1"/><circle cx="1394.71" cy="681.7" r="7.1"/><circle cx="1411.57" cy="657.9" r="7.1"/><circle cx="1428.43" cy="634.9" r="7.1"/><circle cx="1445.29" cy="601" r="7.1"/><circle cx="1462.14" cy="560.8" r="7.1"/><circle cx="1479" cy="514.7" r="7.1"/><circle cx="1495.86" cy="462.1" r="7.1"/><circle cx="1512.72" cy="406.4" r="7.1"/><circle cx="1529.58" cy="360" r="7.1"/><circle cx="1546.43" cy="284" r="7.1"/><circle cx="1563.29" cy="301.6" r="7.1"/><circle cx="1580.15" cy="374.4" r="7.1"/><circle cx="1597.01" cy="424.4" r="7.1"/><circle cx="1613.87" cy="487.7" r="7.1"/><circle cx="1630.72" cy="537.6" r="7.1"/><circle cx="1647.58" cy="583.5" r="7.1"/><circle cx="1664.44" cy="619.7" r="7.1"/><circle cx="1681.3" cy="656" r="7.1"/><circle cx="1698.16" cy="676" r="7.1"/><circle cx="1715.01" cy="691" r="7.1"/><circle cx="1731.87" cy="701.6" r="7.1"/><circle cx="1748.73" cy="708.3" r="7.1"/><circle cx="1765.59" cy="710" r="7.1"/><circle cx="1782.45" cy="716.2" r="7.1"/><circle cx="1799.3" cy="718" r="7.1"/><circle cx="1816.16" cy="716.2" r="7.1"/><circle cx="1833.02" cy="714.4" r="7.1"/><circle cx="1849.88" cy="720" r="7.1"/><circle cx="1866.74" cy="726.7" r="7.1"/><circle cx="1883.59" cy="733.3" r="7.1"/><circle cx="1900.45" cy="715" r="7.1"/><circle cx="1917.31" cy="723.3" r="7.1"/><circle cx="1934.17" cy="726.7" r="7.1"/><circle cx="1951.03" cy="733.3" r="7.1"/><circle cx="1967.88" cy="712.5" r="7.1"/></g></g>
<g clip-path="url(#cB)"><path d="M1158.7,722.4C1158.7,722.4 1158.7,722.4 1161.51,724.32C1164.32,726.23 1169.94,730.07 1175.56,730.33C1181.18,730.6 1186.8,727.3 1192.42,724.65C1198.04,722 1203.65,720 1209.27,720.33C1214.89,720.67 1220.51,723.33 1226.13,722.6C1231.75,721.87 1237.37,717.73 1242.99,718.17C1248.61,718.6 1254.23,723.6 1259.85,722.12C1265.47,720.63 1271.09,712.67 1276.71,708.53C1282.33,704.4 1287.94,704.1 1293.56,705.07C1299.18,706.03 1304.8,708.27 1310.42,709.25C1316.04,710.23 1321.66,709.97 1327.28,710.02C1332.9,710.07 1338.52,710.43 1344.14,709.82C1349.76,709.2 1355.38,707.6 1361,707.75C1366.62,707.9 1372.23,709.8 1377.85,709.42C1383.47,709.03 1389.09,706.37 1394.71,704.08C1400.33,701.8 1405.95,699.9 1411.57,698.77C1417.19,697.63 1422.81,697.27 1428.43,695.07C1434.05,692.87 1439.67,688.83 1445.29,684.45C1450.91,680.07 1456.52,675.33 1462.14,669.13C1467.76,662.93 1473.38,655.27 1479,645.32C1484.62,635.37 1490.24,623.13 1495.86,609.02C1501.48,594.9 1507.1,578.9 1512.72,562.68C1518.34,546.47 1523.96,530.03 1529.58,515.63C1535.2,501.23 1540.81,488.87 1546.43,482.02C1552.05,475.17 1557.67,473.83 1563.29,482.15C1568.91,490.47 1574.53,508.43 1580.15,524.8C1585.77,541.17 1591.39,555.93 1597.01,571.92C1602.63,587.9 1608.25,605.1 1613.87,619.75C1619.49,634.4 1625.1,646.5 1630.72,657.25C1636.34,668 1641.96,677.4 1647.58,683.28C1653.2,689.17 1658.82,691.53 1664.44,693.2C1670.06,694.87 1675.68,695.83 1681.3,697.27C1686.92,698.7 1692.54,700.6 1698.16,702.13C1703.78,703.67 1709.39,704.83 1715.01,705.93C1720.63,707.03 1726.25,708.07 1731.87,708.82C1737.49,709.57 1743.11,710.03 1748.73,710.48C1754.35,710.93 1759.97,711.37 1765.59,712.17C1771.21,712.97 1776.83,714.13 1782.45,714.72C1788.07,715.3 1793.68,715.3 1799.3,714.87C1804.92,714.43 1810.54,713.57 1816.16,713.2C1821.78,712.83 1827.4,712.97 1833.02,713.63C1838.64,714.3 1844.26,715.5 1847.07,716.1C1849.88,716.7 1849.88,716.7 1849.88,716.7" fill="none" stroke="#0000ff" stroke-width="1.15"/>
<g fill="#0000ff"><circle cx="1158.7" cy="722.4" r="7.1"/><circle cx="1175.56" cy="733.9" r="7.1"/><circle cx="1192.42" cy="724" r="7.1"/><circle cx="1209.27" cy="718" r="7.1"/><circle cx="1226.13" cy="726" r="7.1"/><circle cx="1242.99" cy="713.6" r="7.1"/><circle cx="1259.85" cy="728.6" r="7.1"/><circle cx="1276.71" cy="704.7" r="7.1"/><circle cx="1293.56" cy="703.8" r="7.1"/><circle cx="1310.42" cy="710.5" r="7.1"/><circle cx="1327.28" cy="709.7" r="7.1"/><circle cx="1344.14" cy="710.8" r="7.1"/><circle cx="1361" cy="706" r="7.1"/><circle cx="1377.85" cy="711.7" r="7.1"/><circle cx="1394.71" cy="703.7" r="7.1"/><circle cx="1411.57" cy="698" r="7.1"/><circle cx="1428.43" cy="696.9" r="7.1"/><circle cx="1445.29" cy="684.8" r="7.1"/><circle cx="1462.14" cy="670.6" r="7.1"/><circle cx="1479" cy="647.6" r="7.1"/><circle cx="1495.86" cy="610.9" r="7.1"/><circle cx="1512.72" cy="562.9" r="7.1"/><circle cx="1529.58" cy="513.6" r="7.1"/><circle cx="1546.43" cy="476.5" r="7.1"/><circle cx="1563.29" cy="472.5" r="7.1"/><circle cx="1580.15" cy="526.4" r="7.1"/><circle cx="1597.01" cy="570.7" r="7.1"/><circle cx="1613.87" cy="622.3" r="7.1"/><circle cx="1630.72" cy="658.6" r="7.1"/><circle cx="1647.58" cy="686.8" r="7.1"/><circle cx="1664.44" cy="693.9" r="7.1"/><circle cx="1681.3" cy="696.8" r="7.1"/><circle cx="1698.16" cy="702.5" r="7.1"/><circle cx="1715.01" cy="706" r="7.1"/><circle cx="1731.87" cy="709.1" r="7.1"/><circle cx="1748.73" cy="710.5" r="7.1"/><circle cx="1765.59" cy="711.8" r="7.1"/><circle cx="1782.45" cy="715.3" r="7.1"/><circle cx="1799.3" cy="715.3" r="7.1"/><circle cx="1816.16" cy="712.7" r="7.1"/><circle cx="1833.02" cy="713.1" r="7.1"/><circle cx="1849.88" cy="716.7" r="7.1"/></g></g>
<g clip-path="url(#cB)"><path d="M1158.7,728.6C1158.7,728.6 1158.7,728.6 1161.51,729.03C1164.32,729.47 1169.94,730.33 1175.56,729.58C1181.18,728.83 1186.8,726.47 1192.42,725.37C1198.04,724.27 1203.65,724.43 1209.27,724.88C1214.89,725.33 1220.51,726.07 1226.13,726.5C1231.75,726.93 1237.37,727.07 1242.99,726.92C1248.61,726.77 1254.23,726.33 1259.85,725.9C1265.47,725.47 1271.09,725.03 1276.71,725.03C1282.33,725.03 1287.94,725.47 1293.56,725.32C1299.18,725.17 1304.8,724.43 1310.42,724.27C1316.04,724.1 1321.66,724.5 1327.28,724C1332.9,723.5 1338.52,722.1 1344.14,720.93C1349.76,719.77 1355.38,718.83 1361,720.88C1366.62,722.93 1372.23,727.97 1377.85,728.12C1383.47,728.27 1389.09,723.53 1394.71,722.02C1400.33,720.5 1405.95,722.2 1411.57,725.18C1417.19,728.17 1422.81,732.43 1428.43,733.42C1434.05,734.4 1439.67,732.1 1445.29,729.8C1450.91,727.5 1456.52,725.2 1462.14,721.23C1467.76,717.27 1473.38,711.63 1479,713.37C1484.62,715.1 1490.24,724.2 1495.86,728.98C1501.48,733.77 1507.1,734.23 1512.72,732.85C1518.34,731.47 1523.96,728.23 1529.58,726.77C1535.2,725.3 1540.81,725.6 1546.43,726.12C1552.05,726.63 1557.67,727.37 1563.29,728.4C1568.91,729.43 1574.53,730.77 1580.15,730.03C1585.77,729.3 1591.39,726.5 1597.01,727.82C1602.63,729.13 1608.25,734.57 1613.87,735.97C1619.49,737.37 1625.1,734.73 1630.72,731.35C1636.34,727.97 1641.96,723.83 1647.58,721.15C1653.2,718.47 1658.82,717.23 1664.44,717.62C1670.06,718 1675.68,720 1681.3,719.6C1686.92,719.2 1692.54,716.4 1698.16,715.37C1703.78,714.33 1709.39,715.07 1715.01,714.1C1720.63,713.13 1726.25,710.47 1731.87,710.32C1737.49,710.17 1743.11,712.53 1748.73,713.35C1754.35,714.17 1759.97,713.43 1765.59,715.72C1771.21,718 1776.83,723.3 1782.45,724.77C1788.07,726.23 1793.68,723.87 1799.3,721.95C1804.92,720.03 1810.54,718.57 1816.16,718.12C1821.78,717.67 1827.4,718.23 1833.02,719.68C1838.64,721.13 1844.26,723.47 1849.88,723.47C1855.5,723.47 1861.12,721.13 1866.74,720.17C1872.36,719.2 1877.97,719.6 1883.59,719.25C1889.21,718.9 1894.83,717.8 1900.45,717.8C1906.07,717.8 1911.69,718.9 1917.31,719.17C1922.93,719.43 1928.55,718.87 1934.17,719.98C1939.79,721.1 1945.41,723.9 1951.03,723.63C1956.65,723.37 1962.26,720.03 1965.07,718.37C1967.88,716.7 1967.88,716.7 1967.88,716.7" fill="none" stroke="#ff00ff" stroke-width="1.15"/>
<g fill="#ff00ff"><circle cx="1158.7" cy="728.6" r="7.1"/><circle cx="1175.56" cy="731.2" r="7.1"/><circle cx="1192.42" cy="724.1" r="7.1"/><circle cx="1209.27" cy="724.6" r="7.1"/><circle cx="1226.13" cy="726.8" r="7.1"/><circle cx="1242.99" cy="727.2" r="7.1"/><circle cx="1259.85" cy="725.9" r="7.1"/><circle cx="1276.71" cy="724.6" r="7.1"/><circle cx="1293.56" cy="725.9" r="7.1"/><circle cx="1310.42" cy="723.7" r="7.1"/><circle cx="1327.28" cy="724.9" r="7.1"/><circle cx="1344.14" cy="720.7" r="7.1"/><circle cx="1361" cy="717.9" r="7.1"/><circle cx="1377.85" cy="733" r="7.1"/><circle cx="1394.71" cy="718.8" r="7.1"/><circle cx="1411.57" cy="723.9" r="7.1"/><circle cx="1428.43" cy="736.7" r="7.1"/><circle cx="1445.29" cy="729.8" r="7.1"/><circle cx="1462.14" cy="722.9" r="7.1"/><circle cx="1479" cy="706" r="7.1"/><circle cx="1495.86" cy="733.3" r="7.1"/><circle cx="1512.72" cy="734.7" r="7.1"/><circle cx="1529.58" cy="725" r="7.1"/><circle cx="1546.43" cy="725.9" r="7.1"/><circle cx="1563.29" cy="728.1" r="7.1"/><circle cx="1580.15" cy="732.1" r="7.1"/><circle cx="1597.01" cy="723.7" r="7.1"/><circle cx="1613.87" cy="740" r="7.1"/><circle cx="1630.72" cy="732.1" r="7.1"/><circle cx="1647.58" cy="719.7" r="7.1"/><circle cx="1664.44" cy="716" r="7.1"/><circle cx="1681.3" cy="722" r="7.1"/><circle cx="1698.16" cy="713.6" r="7.1"/><circle cx="1715.01" cy="715.8" r="7.1"/><circle cx="1731.87" cy="707.8" r="7.1"/><circle cx="1748.73" cy="714.9" r="7.1"/><circle cx="1765.59" cy="712.7" r="7.1"/><circle cx="1782.45" cy="728.6" r="7.1"/><circle cx="1799.3" cy="721.5" r="7.1"/><circle cx="1816.16" cy="717.1" r="7.1"/><circle cx="1833.02" cy="718.8" r="7.1"/><circle cx="1849.88" cy="725.8" r="7.1"/><circle cx="1866.74" cy="718.8" r="7.1"/><circle cx="1883.59" cy="720" r="7.1"/><circle cx="1900.45" cy="716.7" r="7.1"/><circle cx="1917.31" cy="720" r="7.1"/><circle cx="1934.17" cy="718.3" r="7.1"/><circle cx="1951.03" cy="726.7" r="7.1"/><circle cx="1967.88" cy="716.7" r="7.1"/></g></g>
<g clip-path="url(#cC)"><path d="M208.1,1493.5C208.1,1493.5 208.1,1493.5 209.69,1494.68C211.27,1495.87 214.45,1498.23 217.62,1498.13C220.79,1498.03 223.97,1495.47 227.14,1497.33C230.31,1499.2 233.49,1505.5 236.66,1507.35C239.83,1509.2 243.01,1506.6 246.18,1502.87C249.35,1499.13 252.53,1494.27 255.7,1492.82C258.87,1491.37 262.05,1493.33 265.22,1495C268.39,1496.67 271.57,1498.03 274.74,1496.75C277.91,1495.47 281.09,1491.53 284.26,1492.72C287.43,1493.9 290.61,1500.2 293.78,1500.5C296.95,1500.8 300.13,1495.1 303.3,1494.12C306.47,1493.13 309.65,1496.87 312.82,1497.55C315.99,1498.23 319.17,1495.87 322.34,1495.87C325.51,1495.87 328.69,1498.23 331.86,1500C335.03,1501.77 338.21,1502.93 341.38,1502.05C344.55,1501.17 347.73,1498.23 350.9,1496.47C354.07,1494.7 357.25,1494.1 360.42,1496.65C363.59,1499.2 366.77,1504.9 369.94,1506.67C373.11,1508.43 376.29,1506.27 379.46,1505.58C382.63,1504.9 385.81,1505.7 388.98,1504.33C392.15,1502.97 395.33,1499.43 398.5,1495.85C401.67,1492.27 404.85,1488.63 408.02,1490.47C411.19,1492.3 414.37,1499.6 417.54,1502.33C420.71,1505.07 423.89,1503.23 427.06,1499.25C430.23,1495.27 433.41,1489.13 436.58,1482.87C439.75,1476.6 442.93,1470.2 446.1,1462.27C449.27,1454.33 452.45,1444.87 455.62,1435.52C458.79,1426.17 461.97,1416.93 465.14,1407.65C468.31,1398.37 471.49,1389.03 474.66,1379.88C477.83,1370.73 481.01,1361.77 484.18,1353.55C487.35,1345.33 490.53,1337.87 493.7,1327.55C496.87,1317.23 500.05,1304.07 503.22,1291.67C506.39,1279.27 509.57,1267.63 512.74,1254.75C515.91,1241.87 519.09,1227.73 522.26,1214C525.43,1200.27 528.61,1186.93 531.78,1171.28C534.95,1155.63 538.13,1137.67 541.3,1123.43C544.47,1109.2 547.65,1098.7 550.82,1086.62C553.99,1074.53 557.17,1060.87 560.34,1049.77C563.51,1038.67 566.69,1030.13 569.86,1024.13C573.03,1018.13 576.21,1014.67 579.38,1012.27C582.55,1009.87 585.73,1008.53 588.9,1007.6C592.07,1006.67 595.25,1006.13 598.42,1008.4C601.59,1010.67 604.77,1015.73 607.94,1021.47C611.11,1027.2 614.29,1033.6 617.46,1042.05C620.63,1050.5 623.81,1061 626.98,1071.58C630.15,1082.17 633.33,1092.83 636.5,1104.78C639.67,1116.73 642.85,1129.97 646.02,1143.52C649.19,1157.07 652.37,1170.93 655.54,1182.8C658.71,1194.67 661.89,1204.53 665.06,1216.37C668.23,1228.2 671.41,1242 674.58,1254.27C677.75,1266.53 680.93,1277.27 684.1,1287.25C687.27,1297.23 690.45,1306.47 693.62,1315.93C696.79,1325.4 699.97,1335.1 703.14,1345.82C706.31,1356.53 709.49,1368.27 712.66,1377.42C715.83,1386.57 719.01,1393.13 722.18,1399.93C725.35,1406.73 728.53,1413.77 731.7,1420.78C734.87,1427.8 738.05,1434.8 741.22,1440.82C744.39,1446.83 747.57,1451.87 750.74,1458.07C753.91,1464.27 757.09,1471.63 760.26,1476.78C763.43,1481.93 766.61,1484.87 769.78,1487.78C772.95,1490.7 776.13,1493.6 779.3,1496.22C782.47,1498.83 785.65,1501.17 788.82,1500.9C791.99,1500.63 795.17,1497.77 798.34,1495.55C801.51,1493.33 804.69,1491.77 807.86,1493.73C811.03,1495.7 814.21,1501.2 817.38,1500.02C820.55,1498.83 823.73,1490.97 826.9,1488.48C830.07,1486 833.25,1488.9 836.42,1492.43C839.59,1495.97 842.77,1500.13 845.94,1500.92C849.11,1501.7 852.29,1499.1 855.46,1499.37C858.63,1499.63 861.81,1502.77 864.98,1499.82C868.15,1496.87 871.33,1487.83 874.5,1485.73C877.67,1483.63 880.85,1488.47 884.02,1490.75C887.19,1493.03 890.37,1492.77 893.54,1493.68C896.71,1494.6 899.89,1496.7 903.06,1499.72C906.23,1502.73 909.41,1506.67 912.58,1505.5C915.75,1504.33 918.93,1498.07 922.1,1493.75C925.27,1489.43 928.45,1487.07 931.62,1488.1C934.79,1489.13 937.97,1493.57 941.14,1496.83C944.31,1500.1 947.49,1502.2 950.66,1500.9C953.83,1499.6 957.01,1494.9 960.18,1492.82C963.35,1490.73 966.53,1491.27 969.7,1492.45C972.87,1493.63 976.05,1495.47 979.22,1497.55C982.39,1499.63 985.57,1501.97 988.74,1500.78C991.91,1499.6 995.09,1494.9 998.26,1495.55C1001.43,1496.2 1004.61,1502.2 1007.78,1503.5C1010.95,1504.8 1014.13,1501.4 1017.3,1500.62C1020.47,1499.83 1023.65,1501.67 1025.23,1502.58C1026.82,1503.5 1026.82,1503.5 1026.82,1503.5" fill="none" stroke="#ff0000" stroke-width="1.15"/>
<g fill="#ff0000"><circle cx="208.1" cy="1493.5" r="7.1"/><circle cx="217.62" cy="1500.6" r="7.1"/><circle cx="227.14" cy="1492.9" r="7.1"/><circle cx="236.66" cy="1511.8" r="7.1"/><circle cx="246.18" cy="1504" r="7.1"/><circle cx="255.7" cy="1489.4" r="7.1"/><circle cx="265.22" cy="1495.3" r="7.1"/><circle cx="274.74" cy="1499.4" r="7.1"/><circle cx="284.26" cy="1487.6" r="7.1"/><circle cx="293.78" cy="1506.5" r="7.1"/><circle cx="303.3" cy="1489.4" r="7.1"/><circle cx="312.82" cy="1500.6" r="7.1"/><circle cx="322.34" cy="1493.5" r="7.1"/><circle cx="331.86" cy="1500.6" r="7.1"/><circle cx="341.38" cy="1504.1" r="7.1"/><circle cx="350.9" cy="1495.3" r="7.1"/><circle cx="360.42" cy="1493.5" r="7.1"/><circle cx="369.94" cy="1510.6" r="7.1"/><circle cx="379.46" cy="1504.1" r="7.1"/><circle cx="388.98" cy="1506.5" r="7.1"/><circle cx="398.5" cy="1495.9" r="7.1"/><circle cx="408.02" cy="1485" r="7.1"/><circle cx="417.54" cy="1506.9" r="7.1"/><circle cx="427.06" cy="1501.4" r="7.1"/><circle cx="436.58" cy="1483" r="7.1"/><circle cx="446.1" cy="1463.8" r="7.1"/><circle cx="455.62" cy="1435.4" r="7.1"/><circle cx="465.14" cy="1407.7" r="7.1"/><circle cx="474.66" cy="1379.7" r="7.1"/><circle cx="484.18" cy="1352.8" r="7.1"/><circle cx="493.7" cy="1330.4" r="7.1"/><circle cx="503.22" cy="1290.9" r="7.1"/><circle cx="512.74" cy="1256" r="7.1"/><circle cx="522.26" cy="1213.6" r="7.1"/><circle cx="531.78" cy="1173.6" r="7.1"/><circle cx="541.3" cy="1119.7" r="7.1"/><circle cx="550.82" cy="1088.2" r="7.1"/><circle cx="560.34" cy="1047.2" r="7.1"/><circle cx="569.86" cy="1021.6" r="7.1"/><circle cx="579.38" cy="1011.2" r="7.1"/><circle cx="588.9" cy="1007.2" r="7.1"/><circle cx="598.42" cy="1005.6" r="7.1"/><circle cx="607.94" cy="1020.8" r="7.1"/><circle cx="617.46" cy="1040" r="7.1"/><circle cx="626.98" cy="1071.5" r="7.1"/><circle cx="636.5" cy="1103.5" r="7.1"/><circle cx="646.02" cy="1143.2" r="7.1"/><circle cx="655.54" cy="1184.8" r="7.1"/><circle cx="665.06" cy="1214.4" r="7.1"/><circle cx="674.58" cy="1255.8" r="7.1"/><circle cx="684.1" cy="1288" r="7.1"/><circle cx="693.62" cy="1315.7" r="7.1"/><circle cx="703.14" cy="1344.8" r="7.1"/><circle cx="712.66" cy="1380" r="7.1"/><circle cx="722.18" cy="1399.7" r="7.1"/><circle cx="731.7" cy="1420.8" r="7.1"/><circle cx="741.22" cy="1441.8" r="7.1"/><circle cx="750.74" cy="1456.9" r="7.1"/><circle cx="760.26" cy="1479" r="7.1"/><circle cx="769.78" cy="1487.8" r="7.1"/><circle cx="779.3" cy="1496.5" r="7.1"/><circle cx="788.82" cy="1503.5" r="7.1"/><circle cx="798.34" cy="1494.9" r="7.1"/><circle cx="807.86" cy="1490.2" r="7.1"/><circle cx="817.38" cy="1506.7" r="7.1"/><circle cx="826.9" cy="1483.1" r="7.1"/><circle cx="836.42" cy="1491.8" r="7.1"/><circle cx="845.94" cy="1504.3" r="7.1"/><circle cx="855.46" cy="1496.5" r="7.1"/><circle cx="864.98" cy="1505.9" r="7.1"/><circle cx="874.5" cy="1478.8" r="7.1"/><circle cx="884.02" cy="1493.3" r="7.1"/><circle cx="893.54" cy="1492.5" r="7.1"/><circle cx="903.06" cy="1498.8" r="7.1"/><circle cx="912.58" cy="1510.6" r="7.1"/><circle cx="922.1" cy="1491.8" r="7.1"/><circle cx="931.62" cy="1484.7" r="7.1"/><circle cx="941.14" cy="1498" r="7.1"/><circle cx="950.66" cy="1504.3" r="7.1"/><circle cx="960.18" cy="1490.2" r="7.1"/><circle cx="969.7" cy="1491.8" r="7.1"/><circle cx="979.22" cy="1497.3" r="7.1"/><circle cx="988.74" cy="1504.3" r="7.1"/><circle cx="998.26" cy="1490.2" r="7.1"/><circle cx="1007.78" cy="1508.2" r="7.1"/><circle cx="1017.3" cy="1498" r="7.1"/><circle cx="1026.82" cy="1503.5" r="7.1"/></g></g>
<g clip-path="url(#cC)"><path d="M208.1,1517C208.1,1517 208.1,1517 209.69,1514.27C211.27,1511.53 214.45,1506.07 217.62,1504.9C220.79,1503.73 223.97,1506.87 227.14,1508.73C230.31,1510.6 233.49,1511.2 236.66,1513.17C239.83,1515.13 243.01,1518.47 246.18,1517.58C249.35,1516.7 252.53,1511.6 255.7,1507.18C258.87,1502.77 262.05,1499.03 265.22,1497.85C268.39,1496.67 271.57,1498.03 274.74,1497.93C277.91,1497.83 281.09,1496.27 284.26,1496.27C287.43,1496.27 290.61,1497.83 293.78,1496.95C296.95,1496.07 300.13,1492.73 303.3,1492.93C306.47,1493.13 309.65,1496.87 312.82,1497.55C315.99,1498.23 319.17,1495.87 322.34,1495.87C325.51,1495.87 328.69,1498.23 331.86,1500C335.03,1501.77 338.21,1502.93 341.38,1498.52C344.55,1494.1 347.73,1484.1 350.9,1486.07C354.07,1488.03 357.25,1501.97 360.42,1508.05C363.59,1514.13 366.77,1512.37 369.94,1510.4C373.11,1508.43 376.29,1506.27 379.46,1506.85C382.63,1507.43 385.81,1510.77 388.98,1509.4C392.15,1508.03 395.33,1501.97 398.5,1495.15C401.67,1488.33 404.85,1480.77 408.02,1479.45C411.19,1478.13 414.37,1483.07 417.54,1484.78C420.71,1486.5 423.89,1485 427.06,1482.93C430.23,1480.87 433.41,1478.23 436.58,1481.82C439.75,1485.4 442.93,1495.2 446.1,1496.75C449.27,1498.3 452.45,1491.6 455.62,1487.1C458.79,1482.6 461.97,1480.3 465.14,1477.72C468.31,1475.13 471.49,1472.27 474.66,1468.15C477.83,1464.03 481.01,1458.67 484.18,1451.77C487.35,1444.87 490.53,1436.43 493.7,1427.33C496.87,1418.23 500.05,1408.47 503.22,1397.93C506.39,1387.4 509.57,1376.1 512.74,1364.27C515.91,1352.43 519.09,1340.07 522.26,1325.4C525.43,1310.73 528.61,1293.77 531.78,1276.75C534.95,1259.73 538.13,1242.67 541.3,1226.67C544.47,1210.67 547.65,1195.73 550.82,1181.38C553.99,1167.03 557.17,1153.27 560.34,1143.62C563.51,1133.97 566.69,1128.43 569.86,1123.32C573.03,1118.2 576.21,1113.5 579.38,1111.33C582.55,1109.17 585.73,1109.53 588.9,1109.93C592.07,1110.33 595.25,1110.77 598.42,1113.03C601.59,1115.3 604.77,1119.4 607.94,1125.62C611.11,1131.83 614.29,1140.17 617.46,1148.6C620.63,1157.03 623.81,1165.57 626.98,1175.7C630.15,1185.83 633.33,1197.57 636.5,1210.05C639.67,1222.53 642.85,1235.77 646.02,1249.37C649.19,1262.97 652.37,1276.93 655.54,1290.5C658.71,1304.07 661.89,1317.23 665.06,1328.8C668.23,1340.37 671.41,1350.33 674.58,1360.38C677.75,1370.43 680.93,1380.57 684.1,1391.23C687.27,1401.9 690.45,1413.1 693.62,1422.12C696.79,1431.13 699.97,1437.97 703.14,1444.72C706.31,1451.47 709.49,1458.13 712.66,1464.67C715.83,1471.2 719.01,1477.6 722.18,1479.47C725.35,1481.33 728.53,1478.67 731.7,1477.6C734.87,1476.53 738.05,1477.07 741.22,1478.38C744.39,1479.7 747.57,1481.8 750.74,1483.2C753.91,1484.6 757.09,1485.3 760.26,1487.4C763.43,1489.5 766.61,1493 769.78,1496.58C772.95,1500.17 776.13,1503.83 779.3,1505C782.47,1506.17 785.65,1504.83 788.82,1502.73C791.99,1500.63 795.17,1497.77 798.34,1497.77C801.51,1497.77 804.69,1500.63 807.86,1504.03C811.03,1507.43 814.21,1511.37 817.38,1508.5C820.55,1505.63 823.73,1495.97 826.9,1492.05C830.07,1488.13 833.25,1489.97 836.42,1495.32C839.59,1500.67 842.77,1509.53 845.94,1510.32C849.11,1511.1 852.29,1503.8 855.46,1501.72C858.63,1499.63 861.81,1502.77 864.98,1501.32C868.15,1499.87 871.33,1493.83 874.5,1496.97C877.67,1500.1 880.85,1512.4 884.02,1513.18C887.19,1513.97 890.37,1503.23 893.54,1500.48C896.71,1497.73 899.89,1502.97 903.06,1507.82C906.23,1512.67 909.41,1517.13 912.58,1520.53C915.75,1523.93 918.93,1526.27 922.1,1520.12C925.27,1513.97 928.45,1499.33 931.62,1494.23C934.79,1489.13 937.97,1493.57 941.14,1496.83C944.31,1500.1 947.49,1502.2 950.66,1506.38C953.83,1510.57 957.01,1516.83 960.18,1512.38C963.35,1507.93 966.53,1492.77 969.7,1492.38C972.87,1492 976.05,1506.4 979.22,1510.85C982.39,1515.3 985.57,1509.8 988.74,1503.92C991.91,1498.03 995.09,1491.77 998.26,1491.38C1001.43,1491 1004.61,1496.5 1007.78,1496.37C1010.95,1496.23 1014.13,1490.47 1017.3,1490.72C1020.47,1490.97 1023.65,1497.23 1025.23,1500.37C1026.82,1503.5 1026.82,1503.5 1026.82,1503.5" fill="none" stroke="#00ff00" stroke-width="1.15"/>
<g fill="#00ff00"><circle cx="208.1" cy="1517" r="7.1"/><circle cx="217.62" cy="1500.6" r="7.1"/><circle cx="227.14" cy="1510" r="7.1"/><circle cx="236.66" cy="1511.8" r="7.1"/><circle cx="246.18" cy="1521.8" r="7.1"/><circle cx="255.7" cy="1506.5" r="7.1"/><circle cx="265.22" cy="1495.3" r="7.1"/><circle cx="274.74" cy="1499.4" r="7.1"/><circle cx="284.26" cy="1494.7" r="7.1"/><circle cx="293.78" cy="1499.4" r="7.1"/><circle cx="303.3" cy="1489.4" r="7.1"/><circle cx="312.82" cy="1500.6" r="7.1"/><circle cx="322.34" cy="1493.5" r="7.1"/><circle cx="331.86" cy="1500.6" r="7.1"/><circle cx="341.38" cy="1504.1" r="7.1"/><circle cx="350.9" cy="1474.1" r="7.1"/><circle cx="360.42" cy="1515.9" r="7.1"/><circle cx="369.94" cy="1510.6" r="7.1"/><circle cx="379.46" cy="1504.1" r="7.1"/><circle cx="388.98" cy="1514.1" r="7.1"/><circle cx="398.5" cy="1495.9" r="7.1"/><circle cx="408.02" cy="1473.2" r="7.1"/><circle cx="417.54" cy="1488" r="7.1"/><circle cx="427.06" cy="1483.5" r="7.1"/><circle cx="436.58" cy="1475.6" r="7.1"/><circle cx="446.1" cy="1505" r="7.1"/><circle cx="455.62" cy="1484.9" r="7.1"/><circle cx="465.14" cy="1478" r="7.1"/><circle cx="474.66" cy="1469.4" r="7.1"/><circle cx="484.18" cy="1453.3" r="7.1"/><circle cx="493.7" cy="1428" r="7.1"/><circle cx="503.22" cy="1398.7" r="7.1"/><circle cx="512.74" cy="1364.8" r="7.1"/><circle cx="522.26" cy="1327.7" r="7.1"/><circle cx="531.78" cy="1276.8" r="7.1"/><circle cx="541.3" cy="1225.6" r="7.1"/><circle cx="550.82" cy="1180.8" r="7.1"/><circle cx="560.34" cy="1139.5" r="7.1"/><circle cx="569.86" cy="1122.9" r="7.1"/><circle cx="579.38" cy="1108.8" r="7.1"/><circle cx="588.9" cy="1109.9" r="7.1"/><circle cx="598.42" cy="1111.2" r="7.1"/><circle cx="607.94" cy="1123.5" r="7.1"/><circle cx="617.46" cy="1148.5" r="7.1"/><circle cx="626.98" cy="1174.1" r="7.1"/><circle cx="636.5" cy="1209.3" r="7.1"/><circle cx="646.02" cy="1249" r="7.1"/><circle cx="655.54" cy="1290.9" r="7.1"/><circle cx="665.06" cy="1330.4" r="7.1"/><circle cx="674.58" cy="1360.3" r="7.1"/><circle cx="684.1" cy="1390.7" r="7.1"/><circle cx="693.62" cy="1424.3" r="7.1"/><circle cx="703.14" cy="1444.8" r="7.1"/><circle cx="712.66" cy="1464.8" r="7.1"/><circle cx="722.18" cy="1484" r="7.1"/><circle cx="731.7" cy="1476" r="7.1"/><circle cx="741.22" cy="1477.6" r="7.1"/><circle cx="750.74" cy="1483.9" r="7.1"/><circle cx="760.26" cy="1486" r="7.1"/><circle cx="769.78" cy="1496.5" r="7.1"/><circle cx="779.3" cy="1507.5" r="7.1"/><circle cx="788.82" cy="1503.5" r="7.1"/><circle cx="798.34" cy="1494.9" r="7.1"/><circle cx="807.86" cy="1503.5" r="7.1"/><circle cx="817.38" cy="1515.3" r="7.1"/><circle cx="826.9" cy="1486.3" r="7.1"/><circle cx="836.42" cy="1491.8" r="7.1"/><circle cx="845.94" cy="1518.4" r="7.1"/><circle cx="855.46" cy="1496.5" r="7.1"/><circle cx="864.98" cy="1505.9" r="7.1"/><circle cx="874.5" cy="1487.8" r="7.1"/><circle cx="884.02" cy="1524.7" r="7.1"/><circle cx="893.54" cy="1492.5" r="7.1"/><circle cx="903.06" cy="1508.2" r="7.1"/><circle cx="912.58" cy="1521.6" r="7.1"/><circle cx="922.1" cy="1528.6" r="7.1"/><circle cx="931.62" cy="1484.7" r="7.1"/><circle cx="941.14" cy="1498" r="7.1"/><circle cx="950.66" cy="1504.3" r="7.1"/><circle cx="960.18" cy="1523.1" r="7.1"/><circle cx="969.7" cy="1477.6" r="7.1"/><circle cx="979.22" cy="1520.8" r="7.1"/><circle cx="988.74" cy="1504.3" r="7.1"/><circle cx="998.26" cy="1485.5" r="7.1"/><circle cx="1007.78" cy="1502" r="7.1"/><circle cx="1017.3" cy="1484.7" r="7.1"/><circle cx="1026.82" cy="1503.5" r="7.1"/></g></g>
<g clip-path="url(#cC)"><path d="M208.1,1504.1C208.1,1504.1 208.1,1504.1 209.69,1503.52C211.27,1502.93 214.45,1501.77 217.62,1501.18C220.79,1500.6 223.97,1500.6 227.14,1498.93C230.31,1497.27 233.49,1493.93 236.66,1491.08C239.83,1488.23 243.01,1485.87 246.18,1488.52C249.35,1491.17 252.53,1498.83 255.7,1500.8C258.87,1502.77 262.05,1499.03 265.22,1497.85C268.39,1496.67 271.57,1498.03 274.74,1497.93C277.91,1497.83 281.09,1496.27 284.26,1496.27C287.43,1496.27 290.61,1497.83 293.78,1496.95C296.95,1496.07 300.13,1492.73 303.3,1492.93C306.47,1493.13 309.65,1496.87 312.82,1497.55C315.99,1498.23 319.17,1495.87 322.34,1495.87C325.51,1495.87 328.69,1498.23 331.86,1500C335.03,1501.77 338.21,1502.93 341.38,1500.28C344.55,1497.63 347.73,1491.17 350.9,1491.37C354.07,1491.57 357.25,1498.43 360.42,1502.75C363.59,1507.07 366.77,1508.83 369.94,1508.63C373.11,1508.43 376.29,1506.27 379.46,1504.98C382.63,1503.7 385.81,1503.3 388.98,1500.38C392.15,1497.47 395.33,1492.03 398.5,1490.72C401.67,1489.4 404.85,1492.2 408.02,1493.53C411.19,1494.87 414.37,1494.73 417.54,1493.2C420.71,1491.67 423.89,1488.73 427.06,1487.9C430.23,1487.07 433.41,1488.33 436.58,1490.4C439.75,1492.47 442.93,1495.33 446.1,1495.4C449.27,1495.47 452.45,1492.73 455.62,1492.17C458.79,1491.6 461.97,1493.2 465.14,1491.82C468.31,1490.43 471.49,1486.07 474.66,1484.02C477.83,1481.97 481.01,1482.23 484.18,1480.73C487.35,1479.23 490.53,1475.97 493.7,1473.02C496.87,1470.07 500.05,1467.43 503.22,1463.1C506.39,1458.77 509.57,1452.73 512.74,1444.28C515.91,1435.83 519.09,1424.97 522.26,1413.72C525.43,1402.47 528.61,1390.83 531.78,1378.48C534.95,1366.13 538.13,1353.07 541.3,1341.28C544.47,1329.5 547.65,1319 550.82,1309.13C553.99,1299.27 557.17,1290.03 560.34,1281.12C563.51,1272.2 566.69,1263.6 569.86,1257.2C573.03,1250.8 576.21,1246.6 579.38,1243.83C582.55,1241.07 585.73,1239.73 588.9,1240.53C592.07,1241.33 595.25,1244.27 598.42,1248.8C601.59,1253.33 604.77,1259.47 607.94,1265.52C611.11,1271.57 614.29,1277.53 617.46,1284.87C620.63,1292.2 623.81,1300.9 626.98,1309.78C630.15,1318.67 633.33,1327.73 636.5,1336.85C639.67,1345.97 642.85,1355.13 646.02,1363.67C649.19,1372.2 652.37,1380.1 655.54,1387.78C658.71,1395.47 661.89,1402.93 665.06,1410.27C668.23,1417.6 671.41,1424.8 674.58,1432.27C677.75,1439.73 680.93,1447.47 684.1,1453.52C687.27,1459.57 690.45,1463.93 693.62,1467.27C696.79,1470.6 699.97,1472.9 703.14,1474.18C706.31,1475.47 709.49,1475.73 712.66,1477.6C715.83,1479.47 719.01,1482.93 722.18,1482.73C725.35,1482.53 728.53,1478.67 731.7,1480.03C734.87,1481.4 738.05,1488 741.22,1490.7C744.39,1493.4 747.57,1492.2 750.74,1489.37C753.91,1486.53 757.09,1482.07 760.26,1481.53C763.43,1481 766.61,1484.4 769.78,1487.55C772.95,1490.7 776.13,1493.6 779.3,1491.78C782.47,1489.97 785.65,1483.43 788.82,1483.17C791.99,1482.9 795.17,1488.9 798.34,1491.12C801.51,1493.33 804.69,1491.77 807.86,1490.45C811.03,1489.13 814.21,1488.07 817.38,1487.42C820.55,1486.77 823.73,1486.53 826.9,1487.33C830.07,1488.13 833.25,1489.97 836.42,1493.37C839.59,1496.77 842.77,1501.73 845.94,1502.52C849.11,1503.3 852.29,1499.9 855.46,1499.77C858.63,1499.63 861.81,1502.77 864.98,1506.62C868.15,1510.47 871.33,1515.03 874.5,1513.85C877.67,1512.67 880.85,1505.73 884.02,1501.22C887.19,1496.7 890.37,1494.6 893.54,1496.7C896.71,1498.8 899.89,1505.1 903.06,1506.93C906.23,1508.77 909.41,1506.13 912.58,1504.03C915.75,1501.93 918.93,1500.37 922.1,1497.23C925.27,1494.1 928.45,1489.4 931.62,1489.93C934.79,1490.47 937.97,1496.23 941.14,1499.5C944.31,1502.77 947.49,1503.53 950.66,1502.87C953.83,1502.2 957.01,1500.1 960.18,1496.57C963.35,1493.03 966.53,1488.07 969.7,1489.65C972.87,1491.23 976.05,1499.37 979.22,1502.9C982.39,1506.43 985.57,1505.37 988.74,1501.7C991.91,1498.03 995.09,1491.77 998.26,1491.38C1001.43,1491 1004.61,1496.5 1007.78,1496.37C1010.95,1496.23 1014.13,1490.47 1017.3,1487.58C1020.47,1484.7 1023.65,1484.7 1025.23,1484.7C1026.82,1484.7 1026.82,1484.7 1026.82,1484.7" fill="none" stroke="#0000ff" stroke-width="1.15"/>
<g fill="#0000ff"><circle cx="208.1" cy="1504.1" r="7.1"/><circle cx="217.62" cy="1500.6" r="7.1"/><circle cx="227.14" cy="1500.6" r="7.1"/><circle cx="236.66" cy="1490.6" r="7.1"/><circle cx="246.18" cy="1483.5" r="7.1"/><circle cx="255.7" cy="1506.5" r="7.1"/><circle cx="265.22" cy="1495.3" r="7.1"/><circle cx="274.74" cy="1499.4" r="7.1"/><circle cx="284.26" cy="1494.7" r="7.1"/><circle cx="293.78" cy="1499.4" r="7.1"/><circle cx="303.3" cy="1489.4" r="7.1"/><circle cx="312.82" cy="1500.6" r="7.1"/><circle cx="322.34" cy="1493.5" r="7.1"/><circle cx="331.86" cy="1500.6" r="7.1"/><circle cx="341.38" cy="1504.1" r="7.1"/><circle cx="350.9" cy="1484.7" r="7.1"/><circle cx="360.42" cy="1505.3" r="7.1"/><circle cx="369.94" cy="1510.6" r="7.1"/><circle cx="379.46" cy="1504.1" r="7.1"/><circle cx="388.98" cy="1502.9" r="7.1"/><circle cx="398.5" cy="1486.6" r="7.1"/><circle cx="408.02" cy="1495" r="7.1"/><circle cx="417.54" cy="1494.6" r="7.1"/><circle cx="427.06" cy="1485.8" r="7.1"/><circle cx="436.58" cy="1489.6" r="7.1"/><circle cx="446.1" cy="1498.2" r="7.1"/><circle cx="455.62" cy="1490" r="7.1"/><circle cx="465.14" cy="1494.8" r="7.1"/><circle cx="474.66" cy="1481.7" r="7.1"/><circle cx="484.18" cy="1482.5" r="7.1"/><circle cx="493.7" cy="1472.7" r="7.1"/><circle cx="503.22" cy="1464.8" r="7.1"/><circle cx="512.74" cy="1446.7" r="7.1"/><circle cx="522.26" cy="1414.1" r="7.1"/><circle cx="531.78" cy="1379.2" r="7.1"/><circle cx="541.3" cy="1340" r="7.1"/><circle cx="550.82" cy="1308.5" r="7.1"/><circle cx="560.34" cy="1280.8" r="7.1"/><circle cx="569.86" cy="1255" r="7.1"/><circle cx="579.38" cy="1242.4" r="7.1"/><circle cx="588.9" cy="1238.4" r="7.1"/><circle cx="598.42" cy="1247.2" r="7.1"/><circle cx="607.94" cy="1265.6" r="7.1"/><circle cx="617.46" cy="1283.5" r="7.1"/><circle cx="626.98" cy="1309.6" r="7.1"/><circle cx="636.5" cy="1336.8" r="7.1"/><circle cx="646.02" cy="1364.3" r="7.1"/><circle cx="655.54" cy="1388" r="7.1"/><circle cx="665.06" cy="1410.4" r="7.1"/><circle cx="674.58" cy="1432" r="7.1"/><circle cx="684.1" cy="1455.2" r="7.1"/><circle cx="693.62" cy="1468.3" r="7.1"/><circle cx="703.14" cy="1475.2" r="7.1"/><circle cx="712.66" cy="1476" r="7.1"/><circle cx="722.18" cy="1486.4" r="7.1"/><circle cx="731.7" cy="1474.8" r="7.1"/><circle cx="741.22" cy="1494.6" r="7.1"/><circle cx="750.74" cy="1491" r="7.1"/><circle cx="760.26" cy="1477.6" r="7.1"/><circle cx="769.78" cy="1487.8" r="7.1"/><circle cx="779.3" cy="1496.5" r="7.1"/><circle cx="788.82" cy="1476.9" r="7.1"/><circle cx="798.34" cy="1494.9" r="7.1"/><circle cx="807.86" cy="1490.2" r="7.1"/><circle cx="817.38" cy="1487" r="7.1"/><circle cx="826.9" cy="1486.3" r="7.1"/><circle cx="836.42" cy="1491.8" r="7.1"/><circle cx="845.94" cy="1506.7" r="7.1"/><circle cx="855.46" cy="1496.5" r="7.1"/><circle cx="864.98" cy="1505.9" r="7.1"/><circle cx="874.5" cy="1519.6" r="7.1"/><circle cx="884.02" cy="1498.8" r="7.1"/><circle cx="893.54" cy="1492.5" r="7.1"/><circle cx="903.06" cy="1511.4" r="7.1"/><circle cx="912.58" cy="1503.5" r="7.1"/><circle cx="922.1" cy="1498.8" r="7.1"/><circle cx="931.62" cy="1484.7" r="7.1"/><circle cx="941.14" cy="1502" r="7.1"/><circle cx="950.66" cy="1504.3" r="7.1"/><circle cx="960.18" cy="1498" r="7.1"/><circle cx="969.7" cy="1483.1" r="7.1"/><circle cx="979.22" cy="1507.5" r="7.1"/><circle cx="988.74" cy="1504.3" r="7.1"/><circle cx="998.26" cy="1485.5" r="7.1"/><circle cx="1007.78" cy="1502" r="7.1"/><circle cx="1017.3" cy="1484.7" r="7.1"/><circle cx="1026.82" cy="1484.7" r="7.1"/></g></g>
<g clip-path="url(#cC)"><path d="M198.58,1490C198.58,1490 198.58,1490 200.17,1494.5C201.75,1499 204.93,1508 208.1,1509.77C211.27,1511.53 214.45,1506.07 217.62,1504.9C220.79,1503.73 223.97,1506.87 227.14,1508.73C230.31,1510.6 233.49,1511.2 236.66,1511.5C239.83,1511.8 243.01,1511.8 246.18,1510.92C249.35,1510.03 252.53,1508.27 255.7,1505.52C258.87,1502.77 262.05,1499.03 265.22,1497.85C268.39,1496.67 271.57,1498.03 274.74,1497.93C277.91,1497.83 281.09,1496.27 284.26,1496.27C287.43,1496.27 290.61,1497.83 293.78,1496.95C296.95,1496.07 300.13,1492.73 303.3,1492.93C306.47,1493.13 309.65,1496.87 312.82,1497.55C315.99,1498.23 319.17,1495.87 322.34,1495.87C325.51,1495.87 328.69,1498.23 331.86,1500C335.03,1501.77 338.21,1502.93 341.38,1505C344.55,1507.07 347.73,1510.03 350.9,1509.05C354.07,1508.07 357.25,1503.13 360.42,1502.73C363.59,1502.33 366.77,1506.47 369.94,1507.45C373.11,1508.43 376.29,1506.27 379.46,1504.98C382.63,1503.7 385.81,1503.3 388.98,1501.93C392.15,1500.57 395.33,1498.23 398.5,1495.25C401.67,1492.27 404.85,1488.63 408.02,1490.47C411.19,1492.3 414.37,1499.6 417.54,1502.33C420.71,1505.07 423.89,1503.23 427.06,1501.13C430.23,1499.03 433.41,1496.67 436.58,1496.13C439.75,1495.6 442.93,1496.9 446.1,1495.73C449.27,1494.57 452.45,1490.93 455.62,1489.43C458.79,1487.93 461.97,1488.57 465.14,1490.85C468.31,1493.13 471.49,1497.07 474.66,1497.27C477.83,1497.47 481.01,1493.93 484.18,1493.22C487.35,1492.5 490.53,1494.6 493.7,1496.37C496.87,1498.13 500.05,1499.57 503.22,1498C506.39,1496.43 509.57,1491.87 512.74,1492.18C515.91,1492.5 519.09,1497.7 522.26,1498.48C525.43,1499.27 528.61,1495.63 531.78,1496.82C534.95,1498 538.13,1504 541.3,1504.48C544.47,1504.97 547.65,1499.93 550.82,1498.67C553.99,1497.4 557.17,1499.9 560.34,1498.62C563.51,1497.33 566.69,1492.27 569.86,1492.53C573.03,1492.8 576.21,1498.4 579.38,1500.27C582.55,1502.13 585.73,1500.27 588.9,1498C592.07,1495.73 595.25,1493.07 598.42,1492.4C601.59,1491.73 604.77,1493.07 607.94,1495.73C611.11,1498.4 614.29,1502.4 617.46,1501.87C620.63,1501.33 623.81,1496.27 626.98,1493.47C630.15,1490.67 633.33,1490.13 636.5,1492.13C639.67,1494.13 642.85,1498.67 646.02,1499.47C649.19,1500.27 652.37,1497.33 655.54,1494.67C658.71,1492 661.89,1489.6 665.06,1488.13C668.23,1486.67 671.41,1486.13 674.58,1486C677.75,1485.87 680.93,1486.13 684.1,1488.93C687.27,1491.73 690.45,1497.07 693.62,1499.87C696.79,1502.67 699.97,1502.93 703.14,1502.13C706.31,1501.33 709.49,1499.47 712.66,1498.93C715.83,1498.4 719.01,1499.2 722.18,1497.27C725.35,1495.33 728.53,1490.67 731.7,1489.77C734.87,1488.87 738.05,1491.73 741.22,1492.57C744.39,1493.4 747.57,1492.2 750.74,1489.37C753.91,1486.53 757.09,1482.07 760.26,1481.53C763.43,1481 766.61,1484.4 769.78,1487.55C772.95,1490.7 776.13,1493.6 779.3,1496.22C782.47,1498.83 785.65,1501.17 788.82,1500.9C791.99,1500.63 795.17,1497.77 798.34,1495.55C801.51,1493.33 804.69,1491.77 807.86,1492.68C811.03,1493.6 814.21,1497 817.38,1496.35C820.55,1495.7 823.73,1491 826.9,1489.57C830.07,1488.13 833.25,1489.97 836.42,1492.97C839.59,1495.97 842.77,1500.13 845.94,1500.92C849.11,1501.7 852.29,1499.1 855.46,1499.37C858.63,1499.63 861.81,1502.77 864.98,1501.32C868.15,1499.87 871.33,1493.83 874.5,1493.7C877.67,1493.57 880.85,1499.33 884.02,1500.12C887.19,1500.9 890.37,1496.7 893.54,1497.22C896.71,1497.73 899.89,1502.97 903.06,1501.33C906.23,1499.7 909.41,1491.2 912.58,1487.15C915.75,1483.1 918.93,1483.5 922.1,1483.83C925.27,1484.17 928.45,1484.43 931.62,1486.78C934.79,1489.13 937.97,1493.57 941.14,1496.83C944.31,1500.1 947.49,1502.2 950.66,1504.68C953.83,1507.17 957.01,1510.03 960.18,1507.95C963.35,1505.87 966.53,1498.83 969.7,1497.27C972.87,1495.7 976.05,1499.6 979.22,1501.68C982.39,1503.77 985.57,1504.03 988.74,1501.03C991.91,1498.03 995.09,1491.77 998.26,1491.38C1001.43,1491 1004.61,1496.5 1007.78,1496.37C1010.95,1496.23 1014.13,1490.47 1017.3,1490.72C1020.47,1490.97 1023.65,1497.23 1025.23,1500.37C1026.82,1503.5 1026.82,1503.5 1026.82,1503.5" fill="none" stroke="#ff00ff" stroke-width="1.15"/>
<g fill="#ff00ff"><circle cx="198.58" cy="1490" r="7.1"/><circle cx="208.1" cy="1517" r="7.1"/><circle cx="217.62" cy="1500.6" r="7.1"/><circle cx="227.14" cy="1510" r="7.1"/><circle cx="236.66" cy="1511.8" r="7.1"/><circle cx="246.18" cy="1511.8" r="7.1"/><circle cx="255.7" cy="1506.5" r="7.1"/><circle cx="265.22" cy="1495.3" r="7.1"/><circle cx="274.74" cy="1499.4" r="7.1"/><circle cx="284.26" cy="1494.7" r="7.1"/><circle cx="293.78" cy="1499.4" r="7.1"/><circle cx="303.3" cy="1489.4" r="7.1"/><circle cx="312.82" cy="1500.6" r="7.1"/><circle cx="322.34" cy="1493.5" r="7.1"/><circle cx="331.86" cy="1500.6" r="7.1"/><circle cx="341.38" cy="1504.1" r="7.1"/><circle cx="350.9" cy="1513" r="7.1"/><circle cx="360.42" cy="1498.2" r="7.1"/><circle cx="369.94" cy="1510.6" r="7.1"/><circle cx="379.46" cy="1504.1" r="7.1"/><circle cx="388.98" cy="1502.9" r="7.1"/><circle cx="398.5" cy="1495.9" r="7.1"/><circle cx="408.02" cy="1485" r="7.1"/><circle cx="417.54" cy="1506.9" r="7.1"/><circle cx="427.06" cy="1501.4" r="7.1"/><circle cx="436.58" cy="1494.3" r="7.1"/><circle cx="446.1" cy="1498.2" r="7.1"/><circle cx="455.62" cy="1487.3" r="7.1"/><circle cx="465.14" cy="1489.2" r="7.1"/><circle cx="474.66" cy="1501" r="7.1"/><circle cx="484.18" cy="1490.4" r="7.1"/><circle cx="493.7" cy="1496.7" r="7.1"/><circle cx="503.22" cy="1501" r="7.1"/><circle cx="512.74" cy="1487.3" r="7.1"/><circle cx="522.26" cy="1502.9" r="7.1"/><circle cx="531.78" cy="1492" r="7.1"/><circle cx="541.3" cy="1510" r="7.1"/><circle cx="550.82" cy="1494.9" r="7.1"/><circle cx="560.34" cy="1502.4" r="7.1"/><circle cx="569.86" cy="1487.2" r="7.1"/><circle cx="579.38" cy="1504" r="7.1"/><circle cx="588.9" cy="1498.4" r="7.1"/><circle cx="598.42" cy="1490.4" r="7.1"/><circle cx="607.94" cy="1494.4" r="7.1"/><circle cx="617.46" cy="1506.4" r="7.1"/><circle cx="626.98" cy="1491.2" r="7.1"/><circle cx="636.5" cy="1489.6" r="7.1"/><circle cx="646.02" cy="1503.2" r="7.1"/><circle cx="655.54" cy="1494.4" r="7.1"/><circle cx="665.06" cy="1487.2" r="7.1"/><circle cx="674.58" cy="1485.6" r="7.1"/><circle cx="684.1" cy="1486.4" r="7.1"/><circle cx="693.62" cy="1502.4" r="7.1"/><circle cx="703.14" cy="1503.2" r="7.1"/><circle cx="712.66" cy="1497.6" r="7.1"/><circle cx="722.18" cy="1500" r="7.1"/><circle cx="731.7" cy="1486" r="7.1"/><circle cx="741.22" cy="1494.6" r="7.1"/><circle cx="750.74" cy="1491" r="7.1"/><circle cx="760.26" cy="1477.6" r="7.1"/><circle cx="769.78" cy="1487.8" r="7.1"/><circle cx="779.3" cy="1496.5" r="7.1"/><circle cx="788.82" cy="1503.5" r="7.1"/><circle cx="798.34" cy="1494.9" r="7.1"/><circle cx="807.86" cy="1490.2" r="7.1"/><circle cx="817.38" cy="1500.4" r="7.1"/><circle cx="826.9" cy="1486.3" r="7.1"/><circle cx="836.42" cy="1491.8" r="7.1"/><circle cx="845.94" cy="1504.3" r="7.1"/><circle cx="855.46" cy="1496.5" r="7.1"/><circle cx="864.98" cy="1505.9" r="7.1"/><circle cx="874.5" cy="1487.8" r="7.1"/><circle cx="884.02" cy="1505.1" r="7.1"/><circle cx="893.54" cy="1492.5" r="7.1"/><circle cx="903.06" cy="1508.2" r="7.1"/><circle cx="912.58" cy="1482.7" r="7.1"/><circle cx="922.1" cy="1483.9" r="7.1"/><circle cx="931.62" cy="1484.7" r="7.1"/><circle cx="941.14" cy="1498" r="7.1"/><circle cx="950.66" cy="1504.3" r="7.1"/><circle cx="960.18" cy="1512.9" r="7.1"/><circle cx="969.7" cy="1491.8" r="7.1"/><circle cx="979.22" cy="1503.5" r="7.1"/><circle cx="988.74" cy="1504.3" r="7.1"/><circle cx="998.26" cy="1485.5" r="7.1"/><circle cx="1007.78" cy="1502" r="7.1"/><circle cx="1017.3" cy="1484.7" r="7.1"/><circle cx="1026.82" cy="1503.5" r="7.1"/></g></g>
<g clip-path="url(#cD)"><path d="M1394.4,968.79 L1397.2,969.21 L1400.01,969.63 L1402.81,970.04 L1405.61,970.45 L1408.41,970.84 L1411.22,971.24 L1414.02,971.63 L1416.82,972.03 L1419.62,972.43 L1422.43,972.83 L1425.23,973.24 L1428.03,973.66 L1430.83,974.09 L1433.64,974.53 L1436.44,974.98 L1439.24,975.45 L1442.04,975.94 L1444.85,976.44 L1447.65,976.97 L1450.45,977.52 L1453.25,978.1 L1456.06,978.7 L1458.86,979.33 L1461.66,979.99 L1464.46,980.68 L1467.27,981.41 L1470.07,982.18 L1472.87,982.98 L1475.67,983.82 L1478.48,984.7 L1481.28,985.63 L1484.08,986.6 L1486.88,987.62 L1489.69,988.69 L1492.49,989.8 L1495.29,990.98 L1498.09,992.2 L1500.9,993.48 L1503.7,994.82 L1506.5,996.22 L1509.3,997.69 L1512.11,999.21 L1514.91,1000.8 L1517.71,1002.46 L1520.51,1004.19 L1523.32,1005.99 L1526.12,1007.87 L1528.92,1009.82 L1531.72,1011.86 L1534.53,1014 L1537.33,1016.24 L1540.13,1018.6 L1542.93,1021.08 L1545.74,1023.69 L1548.54,1026.45 L1551.34,1029.35 L1554.14,1032.4 L1556.95,1035.62 L1559.75,1039.02 L1562.55,1042.6 L1565.35,1046.37 L1568.16,1050.33 L1570.96,1054.51 L1573.76,1058.9 L1576.56,1063.52 L1579.37,1068.37 L1582.17,1073.47 L1584.97,1078.81 L1587.77,1084.41 L1590.58,1090.27 L1593.38,1096.39 L1596.18,1102.74 L1598.98,1109.34 L1601.79,1116.17 L1604.59,1123.23 L1607.39,1130.5 L1610.19,1138 L1613,1145.7 L1615.8,1153.61 L1618.6,1161.71 L1621.4,1170 L1624.21,1178.48 L1627.01,1187.14 L1629.81,1195.97 L1632.61,1204.97 L1635.42,1214.13 L1638.22,1223.44 L1641.02,1232.91 L1643.82,1242.51 L1646.63,1252.26 L1649.43,1262.13 L1652.23,1272.1 L1655.03,1282.17 L1657.84,1292.31 L1660.64,1302.5 L1663.44,1312.72 L1666.24,1322.95 L1669.05,1333.17 L1671.85,1343.36 L1674.65,1353.51 L1677.45,1363.59 L1680.26,1373.58 L1683.06,1383.46 L1685.86,1393.22 L1688.66,1402.83 L1691.47,1412.28 L1694.27,1421.54 L1697.07,1430.6 L1699.87,1439.43 L1702.68,1448.02 L1705.48,1456.34 L1708.28,1464.38 L1711.08,1472.12 L1713.89,1479.54 L1716.69,1486.61 L1719.49,1493.32 L1722.29,1499.65 L1725.1,1505.58 L1727.9,1511.09" fill="none" stroke="#ff0000" stroke-width="3.4" stroke-linejoin="round"/>
<g fill="#ff0000"><circle cx="1395" cy="955.7" r="6.8"/><circle cx="1534.7" cy="1019.5" r="6.8"/><circle cx="1612.1" cy="1159.6" r="6.8"/><circle cx="1728.7" cy="1512" r="6.8"/></g></g>
<g clip-path="url(#cD)"><path d="M1394.4,1117.02 L1397.2,1118.04 L1400.01,1119.03 L1402.81,1120.01 L1405.61,1120.97 L1408.41,1121.92 L1411.22,1122.86 L1414.02,1123.78 L1416.82,1124.7 L1419.62,1125.62 L1422.43,1126.53 L1425.23,1127.44 L1428.03,1128.35 L1430.83,1129.27 L1433.64,1130.19 L1436.44,1131.13 L1439.24,1132.07 L1442.04,1133.03 L1444.85,1134 L1447.65,1135 L1450.45,1136.01 L1453.25,1137.04 L1456.06,1138.1 L1458.86,1139.19 L1461.66,1140.31 L1464.46,1141.46 L1467.27,1142.64 L1470.07,1143.86 L1472.87,1145.12 L1475.67,1146.42 L1478.48,1147.77 L1481.28,1149.16 L1484.08,1150.6 L1486.88,1152.08 L1489.69,1153.63 L1492.49,1155.22 L1495.29,1156.88 L1498.09,1158.59 L1500.9,1160.37 L1503.7,1162.21 L1506.5,1164.12 L1509.3,1166.09 L1512.11,1168.14 L1514.91,1170.26 L1517.71,1172.46 L1520.51,1174.74 L1523.32,1177.09 L1526.12,1179.53 L1528.92,1182.06 L1531.72,1184.67 L1534.53,1187.37 L1537.33,1190.16 L1540.13,1193.05 L1542.93,1196.04 L1545.74,1199.12 L1548.54,1202.31 L1551.34,1205.6 L1554.14,1208.99 L1556.95,1212.5 L1559.75,1216.11 L1562.55,1219.84 L1565.35,1223.67 L1568.16,1227.61 L1570.96,1231.65 L1573.76,1235.79 L1576.56,1240.02 L1579.37,1244.33 L1582.17,1248.73 L1584.97,1253.2 L1587.77,1257.75 L1590.58,1262.37 L1593.38,1267.05 L1596.18,1271.8 L1598.98,1276.59 L1601.79,1281.44 L1604.59,1286.34 L1607.39,1291.28 L1610.19,1296.26 L1613,1301.27 L1615.8,1306.31 L1618.6,1311.38 L1621.4,1316.46 L1624.21,1321.57 L1627.01,1326.68 L1629.81,1331.8 L1632.61,1336.92 L1635.42,1342.05 L1638.22,1347.16 L1641.02,1352.27 L1643.82,1357.36 L1646.63,1362.43 L1649.43,1367.47 L1652.23,1372.49 L1655.03,1377.49 L1657.84,1382.46 L1660.64,1387.42 L1663.44,1392.36 L1666.24,1397.3 L1669.05,1402.23 L1671.85,1407.16 L1674.65,1412.09 L1677.45,1417.02 L1680.26,1421.97 L1683.06,1426.92 L1685.86,1431.89 L1688.66,1436.88 L1691.47,1441.9 L1694.27,1446.94 L1697.07,1452.02 L1699.87,1457.12 L1702.68,1462.27 L1705.48,1467.46 L1708.28,1472.69 L1711.08,1477.97 L1713.89,1483.31 L1716.69,1488.7 L1719.49,1494.15 L1722.29,1499.67 L1725.1,1505.25 L1727.9,1510.9" fill="none" stroke="#00ff00" stroke-width="3.4" stroke-linejoin="round"/>
<g fill="#00ff00"><circle cx="1394.9" cy="1105.7" r="6.8"/><circle cx="1534.5" cy="1188.2" r="6.8"/><circle cx="1612.4" cy="1319.3" r="6.8"/></g></g>
<g clip-path="url(#cD)"><path d="M1394.4,1214.76 L1397.2,1215.58 L1400.01,1216.39 L1402.81,1217.21 L1405.61,1218.03 L1408.41,1218.87 L1411.22,1219.7 L1414.02,1220.55 L1416.82,1221.41 L1419.62,1222.27 L1422.43,1223.15 L1425.23,1224.03 L1428.03,1224.93 L1430.83,1225.84 L1433.64,1226.76 L1436.44,1227.7 L1439.24,1228.65 L1442.04,1229.62 L1444.85,1230.6 L1447.65,1231.6 L1450.45,1232.62 L1453.25,1233.66 L1456.06,1234.72 L1458.86,1235.8 L1461.66,1236.9 L1464.46,1238.02 L1467.27,1239.16 L1470.07,1240.33 L1472.87,1241.52 L1475.67,1242.73 L1478.48,1243.97 L1481.28,1245.24 L1484.08,1246.53 L1486.88,1247.86 L1489.69,1249.21 L1492.49,1250.59 L1495.29,1252 L1498.09,1253.44 L1500.9,1254.92 L1503.7,1256.42 L1506.5,1257.96 L1509.3,1259.54 L1512.11,1261.15 L1514.91,1262.79 L1517.71,1264.47 L1520.51,1266.19 L1523.32,1267.95 L1526.12,1269.74 L1528.92,1271.58 L1531.72,1273.45 L1534.53,1275.37 L1537.33,1277.33 L1540.13,1279.33 L1542.93,1281.37 L1545.74,1283.46 L1548.54,1285.59 L1551.34,1287.77 L1554.14,1290 L1556.95,1292.27 L1559.75,1294.59 L1562.55,1296.96 L1565.35,1299.38 L1568.16,1301.85 L1570.96,1304.36 L1573.76,1306.92 L1576.56,1309.53 L1579.37,1312.19 L1582.17,1314.89 L1584.97,1317.64 L1587.77,1320.43 L1590.58,1323.27 L1593.38,1326.16 L1596.18,1329.09 L1598.98,1332.06 L1601.79,1335.08 L1604.59,1338.15 L1607.39,1341.25 L1610.19,1344.4 L1613,1347.59 L1615.8,1350.83 L1618.6,1354.1 L1621.4,1357.42 L1624.21,1360.78 L1627.01,1364.18 L1629.81,1367.62 L1632.61,1371.1 L1635.42,1374.63 L1638.22,1378.19 L1641.02,1381.79 L1643.82,1385.43 L1646.63,1389.1 L1649.43,1392.82 L1652.23,1396.58 L1655.03,1400.37 L1657.84,1404.2 L1660.64,1408.06 L1663.44,1411.97 L1666.24,1415.91 L1669.05,1419.88 L1671.85,1423.89 L1674.65,1427.94 L1677.45,1432.02 L1680.26,1436.13 L1683.06,1440.28 L1685.86,1444.47 L1688.66,1448.68 L1691.47,1452.93 L1694.27,1457.21 L1697.07,1461.53 L1699.87,1465.88 L1702.68,1470.26 L1705.48,1474.67 L1708.28,1479.11 L1711.08,1483.58 L1713.89,1488.08 L1716.69,1492.62 L1719.49,1497.18 L1722.29,1501.77 L1725.1,1506.39 L1727.9,1511.04" fill="none" stroke="#0000ff" stroke-width="3.4" stroke-linejoin="round"/>
<g fill="#0000ff" stroke="#000" stroke-width="1.1"><circle cx="1394.9" cy="1206.3" r="6.3"/><circle cx="1534.5" cy="1277.1" r="6.3"/><circle cx="1612.4" cy="1354.1" r="6.3"/><circle cx="1728.7" cy="1512" r="6.3"/><circle cx="1923.2" cy="1512" r="6.3"/></g></g>
<line x1="1728.7" y1="1512" x2="1923.2" y2="1512" stroke="#000" stroke-width="4"/>
<rect x="202.5" y="130.5" width="828" height="634.8" fill="none" stroke="#000" stroke-width="3.0" stroke-linejoin="miter"/>
<rect x="1148.5" y="130.5" width="827.5" height="634.8" fill="none" stroke="#000" stroke-width="3.0" stroke-linejoin="miter"/>
<line x1="1976" y1="129" x2="1976" y2="766.8" stroke="#000" stroke-width="3.8"/>
<rect x="202.5" y="916.5" width="828" height="634.7" fill="none" stroke="#000" stroke-width="3.0" stroke-linejoin="miter"/>
<rect x="1148.5" y="916.4" width="827.5" height="634.9" fill="none" stroke="#000" stroke-width="3.0" stroke-linejoin="miter"/>
<line x1="1976" y1="914.9" x2="1976" y2="1552.8" stroke="#000" stroke-width="3.8"/>
<text x="149.66" y="738.4" font-size="62" fill="#000">0</text>
<text x="149.72" y="590.82" font-size="62" fill="#000">5</text>
<text x="118.66" y="443.25" font-size="62" fill="#000">10</text>
<text x="118.72" y="295.67" font-size="62" fill="#000">15</text>
<text x="118.66" y="148.1" font-size="62" fill="#000">20</text>
<text x="257.33" y="834" font-size="62" fill="#000">9.0</text>
<text x="486.56" y="834" font-size="62" fill="#000">9.3</text>
<text x="715.47" y="834" font-size="62" fill="#000">9.6</text>
<text x="945.02" y="834" font-size="62" fill="#000">9.9</text>
<text x="1095.96" y="741.9" font-size="62" fill="#000">0</text>
<text x="1096.02" y="535" font-size="62" fill="#000">5</text>
<text x="1064.96" y="328.1" font-size="62" fill="#000">10</text>
<text x="1109.03" y="833.6" font-size="62" fill="#000">5.4</text>
<text x="1385.56" y="833.6" font-size="62" fill="#000">5.5</text>
<text x="1661.07" y="833.6" font-size="62" fill="#000">5.6</text>
<text x="1936.84" y="833.6" font-size="62" fill="#000">5.7</text>
<text x="149.96" y="1516" font-size="62" fill="#000">0</text>
<text x="150.02" y="1357.3" font-size="62" fill="#000">3</text>
<text x="149.45" y="1198.6" font-size="62" fill="#000">6</text>
<text x="150.14" y="1039.9" font-size="62" fill="#000">9</text>
<text x="303.05" y="1619.5" font-size="62" fill="#000">4.2</text>
<text x="578.61" y="1619.5" font-size="62" fill="#000">4.3</text>
<text x="853.93" y="1619.5" font-size="62" fill="#000">4.4</text>
<text x="1104.56" y="1530.2" font-size="62" fill="#000">0</text>
<text x="1104.05" y="1334.18" font-size="62" fill="#000">6</text>
<text x="1074.62" y="1138.16" font-size="62" fill="#000">12</text>
<text x="1073.56" y="942.14" font-size="62" fill="#000">18</text>
<text x="1325" y="1610.8" font-size="62" fill="#000">0</text>
<text x="1518.54" y="1610.8" font-size="62" fill="#000">1</text>
<text x="1714.15" y="1610.8" font-size="62" fill="#000">2</text>
<text x="1907.93" y="1610.8" font-size="62" fill="#000">3</text>
<line x1="232" y1="216.3" x2="283.6" y2="216.3" stroke="#ff0000" stroke-width="1.5"/>
<line x1="299.4" y1="216.3" x2="350.9" y2="216.3" stroke="#ff0000" stroke-width="1.5"/>
<circle cx="291.5" cy="216.3" r="7.1" fill="#ff0000"/>
<line x1="232" y1="281.6" x2="283.6" y2="281.6" stroke="#00ff00" stroke-width="1.5"/>
<line x1="299.4" y1="281.6" x2="350.9" y2="281.6" stroke="#00ff00" stroke-width="1.5"/>
<circle cx="291.5" cy="281.6" r="7.1" fill="#00ff00"/>
<line x1="232" y1="346.9" x2="283.6" y2="346.9" stroke="#0000ff" stroke-width="1.5"/>
<line x1="299.4" y1="346.9" x2="350.9" y2="346.9" stroke="#0000ff" stroke-width="1.5"/>
<circle cx="291.5" cy="346.9" r="7.1" fill="#0000ff"/>
<line x1="232" y1="412.3" x2="283.6" y2="412.3" stroke="#ff00ff" stroke-width="1.5"/>
<line x1="299.4" y1="412.3" x2="350.9" y2="412.3" stroke="#ff00ff" stroke-width="1.5"/>
<circle cx="291.5" cy="412.3" r="7.1" fill="#ff00ff"/>
<line x1="1174.1" y1="184.5" x2="1224.9" y2="184.5" stroke="#ff0000" stroke-width="1.5"/>
<line x1="1240.7" y1="184.5" x2="1292.7" y2="184.5" stroke="#ff0000" stroke-width="1.5"/>
<circle cx="1232.8" cy="184.5" r="7.1" fill="#ff0000"/>
<line x1="1174.1" y1="249.5" x2="1224.9" y2="249.5" stroke="#00ff00" stroke-width="1.5"/>
<line x1="1240.7" y1="249.5" x2="1292.7" y2="249.5" stroke="#00ff00" stroke-width="1.5"/>
<circle cx="1232.8" cy="249.5" r="7.1" fill="#00ff00"/>
<line x1="1174.1" y1="314.5" x2="1224.9" y2="314.5" stroke="#0000ff" stroke-width="1.5"/>
<line x1="1240.7" y1="314.5" x2="1292.7" y2="314.5" stroke="#0000ff" stroke-width="1.5"/>
<circle cx="1232.8" cy="314.5" r="7.1" fill="#0000ff"/>
<line x1="1174.1" y1="379.6" x2="1224.9" y2="379.6" stroke="#ff00ff" stroke-width="1.5"/>
<line x1="1240.7" y1="379.6" x2="1292.7" y2="379.6" stroke="#ff00ff" stroke-width="1.5"/>
<circle cx="1232.8" cy="379.6" r="7.1" fill="#ff00ff"/>
<line x1="231" y1="959.7" x2="282.4" y2="959.7" stroke="#ff0000" stroke-width="1.5"/>
<line x1="298.2" y1="959.7" x2="349.9" y2="959.7" stroke="#ff0000" stroke-width="1.5"/>
<circle cx="290.3" cy="959.7" r="7.1" fill="#ff0000"/>
<line x1="231" y1="1025.2" x2="282.4" y2="1025.2" stroke="#00ff00" stroke-width="1.5"/>
<line x1="298.2" y1="1025.2" x2="349.9" y2="1025.2" stroke="#00ff00" stroke-width="1.5"/>
<circle cx="290.3" cy="1025.2" r="7.1" fill="#00ff00"/>
<line x1="231" y1="1090.6" x2="282.4" y2="1090.6" stroke="#0000ff" stroke-width="1.5"/>
<line x1="298.2" y1="1090.6" x2="349.9" y2="1090.6" stroke="#0000ff" stroke-width="1.5"/>
<circle cx="290.3" cy="1090.6" r="7.1" fill="#0000ff"/>
<line x1="231" y1="1155.5" x2="282.4" y2="1155.5" stroke="#ff00ff" stroke-width="1.5"/>
<line x1="298.2" y1="1155.5" x2="349.9" y2="1155.5" stroke="#ff00ff" stroke-width="1.5"/>
<circle cx="290.3" cy="1155.5" r="7.1" fill="#ff00ff"/>
<text transform="translate(363.81,233.2) scale(1.0449,1)" font-size="50">0.28 K</text>
<text transform="translate(363.81,298.53) scale(1.0449,1)" font-size="50">1.0 K</text>
<text transform="translate(363.81,363.86) scale(1.0449,1)" font-size="50">1.4 K</text>
<text transform="translate(363.81,429.19) scale(1.0449,1)" font-size="50">2.0 K</text>
<text transform="translate(1304.81,202) scale(1.0472,1)" font-size="50">0.28 K</text>
<text transform="translate(1304.81,267) scale(1.0472,1)" font-size="50">1.0 K</text>
<text transform="translate(1304.81,332) scale(1.0472,1)" font-size="50">1.4 K</text>
<text transform="translate(1304.81,397) scale(1.0472,1)" font-size="50">2.0 K</text>
<text transform="translate(363.01,977.4) scale(1.0472,1)" font-size="50">0.28 K</text>
<text transform="translate(363.01,1042.67) scale(1.0472,1)" font-size="50">1.0 K</text>
<text transform="translate(363.01,1107.94) scale(1.0472,1)" font-size="50">1.4 K</text>
<text transform="translate(363.01,1173.21) scale(1.0472,1)" font-size="50">2.0 K</text>
<text transform="translate(713.17,219.6) scale(1.0167,1)" font-size="61" fill="#000" color="#000"><tspan>(0 0 0) ± </tspan><tspan font-style="italic" stroke="currentColor" stroke-width="0.9">k</tspan></text>
<text transform="translate(1680.73,213.7) scale(1.0351,1)" font-size="61" fill="#000" color="#000"><tspan>(0 0 2) - </tspan><tspan font-style="italic" stroke="currentColor" stroke-width="0.9">k</tspan></text>
<text transform="translate(599.13,992.8) scale(1.0330,1)" font-size="61" fill="#000" color="#000"><tspan>(0 -1 -1)/(-1 0 1)</tspan></text>
<text transform="translate(800.25,1069.4) scale(1.0713,1)" font-size="61" fill="#000" color="#000"><tspan>+ </tspan><tspan font-style="italic" stroke="currentColor" stroke-width="0.9">k</tspan></text>
<text transform="translate(1155.28,986.4) scale(1.0154,1)" font-size="61" fill="#ff0000" color="#ff0000"><tspan>(000) ± </tspan><tspan font-style="italic" stroke="currentColor" stroke-width="0.9">k</tspan></text>
<text transform="translate(1160.19,1124.9) scale(1.0112,1)" font-size="61" fill="#00ff00" color="#00ff00"><tspan>(002) − </tspan><tspan font-style="italic" stroke="currentColor" stroke-width="0.9">k</tspan></text>
<text transform="translate(1166.84,1367.4) scale(1.0147,1)" font-size="62" fill="#0000ff" color="#0000ff"><tspan>(0-1-1)/(-1 0 1)</tspan></text>
<text transform="translate(1179.9,1445.6) scale(1.0204,1)" font-size="61" fill="#0000ff" color="#0000ff"><tspan>+ </tspan><tspan font-style="italic" stroke="currentColor" stroke-width="0.9">k</tspan></text>
<text transform="translate(874.46,646.5) scale(1.0166,1)" font-size="77" fill="#000" color="#000"><tspan>(a)</tspan></text>
<text transform="translate(1850.37,645.4) scale(1.0131,1)" font-size="77" fill="#000" color="#000"><tspan>(b)</tspan></text>
<text transform="translate(880.36,1432.4) scale(1.0166,1)" font-size="77" fill="#000" color="#000"><tspan>(c)</tspan></text>
<text transform="translate(1832.42,1445.4) scale(1.0275,1)" font-size="77" fill="#000" color="#000"><tspan>(d)</tspan></text>
<text transform="translate(501.77,95.5) scale(0.9808,1)" font-size="75" fill="#000" color="#000"><tspan font-style="italic">d (Å)</tspan></text>
<text transform="translate(1485.67,99.6) scale(0.9808,1)" font-size="75" fill="#000" color="#000"><tspan font-style="italic">d (Å)</tspan></text>
<text transform="translate(493.35,1710.7) scale(0.9896,1)" font-size="75" fill="#000" color="#000"><tspan font-style="italic">d (Å)</tspan></text>
<text transform="translate(1480.16,1699.8) scale(1.0059,1)" font-size="75" fill="#000" color="#000"><tspan font-style="italic">T</tspan><tspan> (K)</tspan></text>
<text transform="translate(86.9,618.56) rotate(-90) scale(1.0061,1)" font-size="76" fill="#000"><tspan>Intensity (a.u)</tspan></text>
<text transform="translate(90.8,1448.56) rotate(-90) scale(1.0049,1)" font-size="76" fill="#000"><tspan>Intensity (a.u)</tspan></text>
</g></svg>
</body></html>
